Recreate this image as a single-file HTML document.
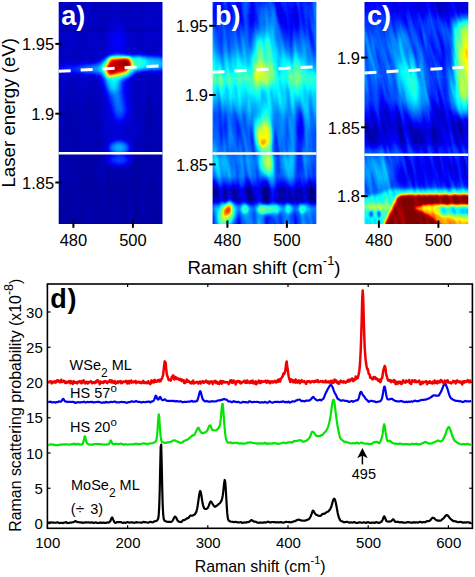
<!DOCTYPE html>
<html><head><meta charset="utf-8"><style>
html,body{margin:0;padding:0;background:#fff;width:475px;height:577px;overflow:hidden}
svg{display:block}
text{font-family:"Liberation Sans",sans-serif}
</style></head><body>
<svg width="475" height="577" viewBox="0 0 475 577">
<defs>
<filter id="jet" x="0" y="0" width="1" height="1" color-interpolation-filters="sRGB">
  <feComponentTransfer>
    <feFuncR type="table" tableValues="0 0 0 0 0.5 1 1 1 0.5"/>
    <feFuncG type="table" tableValues="0 0 0.5 1 1 1 0.5 0 0"/>
    <feFuncB type="table" tableValues="0.5 1 1 1 0.5 0 0 0 0"/>
  </feComponentTransfer>
</filter>
<filter id="b1" x="-50%" y="-50%" width="200%" height="200%"><feGaussianBlur stdDeviation="1.5"/></filter>
<filter id="b2" x="-50%" y="-50%" width="200%" height="200%"><feGaussianBlur stdDeviation="3"/></filter>
<filter id="b3" x="-50%" y="-50%" width="200%" height="200%"><feGaussianBlur stdDeviation="6"/></filter>
<clipPath id="ca"><rect x="58.7" y="2" width="103.8" height="222"/></clipPath>
<clipPath id="cb"><rect x="212.6" y="2" width="103.8" height="222"/></clipPath>
<clipPath id="cc"><rect x="364.5" y="2" width="103.8" height="222"/></clipPath>
<filter id="bl1" x="-80%" y="-80%" width="260%" height="260%"><feGaussianBlur stdDeviation="0.8"/></filter><filter id="bl2" x="-80%" y="-80%" width="260%" height="260%"><feGaussianBlur stdDeviation="1.5"/></filter><filter id="bl3" x="-80%" y="-80%" width="260%" height="260%"><feGaussianBlur stdDeviation="2.5"/></filter><filter id="bl4" x="-80%" y="-80%" width="260%" height="260%"><feGaussianBlur stdDeviation="4"/></filter><filter id="bl5" x="-80%" y="-80%" width="260%" height="260%"><feGaussianBlur stdDeviation="6"/></filter><filter id="jetA" x="0" y="0" width="1" height="1" color-interpolation-filters="sRGB"><feTurbulence type="fractalNoise" baseFrequency="0.15 0.02" numOctaves="2" seed="3" result="n"/><feColorMatrix in="n" type="matrix" values="1 0 0 0 0  1 0 0 0 0  1 0 0 0 0  0 0 0 0 1" result="gn"/><feComposite in="SourceGraphic" in2="gn" operator="arithmetic" k1="0" k2="1" k3="0.035" k4="-0.0175" result="s1"/><feTurbulence type="fractalNoise" baseFrequency="0.8" numOctaves="1" seed="11" result="d"/><feColorMatrix in="d" type="matrix" values="1 0 0 0 0  1 0 0 0 0  1 0 0 0 0  0 0 0 0 1" result="gd"/><feComposite in="s1" in2="gd" operator="arithmetic" k1="0" k2="1" k3="0.016" k4="-0.008"/><feComponentTransfer>
    <feFuncR type="table" tableValues="0 0 0 0 0.5 1 1 1 0.5"/>
    <feFuncG type="table" tableValues="0 0 0.5 1 1 1 0.5 0 0"/>
    <feFuncB type="table" tableValues="0.5 1 1 1 0.5 0 0 0 0"/>
  </feComponentTransfer></filter><filter id="jetB" x="0" y="0" width="1" height="1" color-interpolation-filters="sRGB"><feTurbulence type="fractalNoise" baseFrequency="0.13 0.02" numOctaves="2" seed="5" result="n"/><feColorMatrix in="n" type="matrix" values="1 0 0 0 0  1 0 0 0 0  1 0 0 0 0  0 0 0 0 1" result="gn"/><feComposite in="SourceGraphic" in2="gn" operator="arithmetic" k1="0" k2="1" k3="0.3" k4="-0.15" result="s1"/><feTurbulence type="fractalNoise" baseFrequency="0.8" numOctaves="1" seed="11" result="d"/><feColorMatrix in="d" type="matrix" values="1 0 0 0 0  1 0 0 0 0  1 0 0 0 0  0 0 0 0 1" result="gd"/><feComposite in="s1" in2="gd" operator="arithmetic" k1="0" k2="1" k3="0.016" k4="-0.008"/><feComponentTransfer>
    <feFuncR type="table" tableValues="0 0 0 0 0.5 1 1 1 0.5"/>
    <feFuncG type="table" tableValues="0 0 0.5 1 1 1 0.5 0 0"/>
    <feFuncB type="table" tableValues="0.5 1 1 1 0.5 0 0 0 0"/>
  </feComponentTransfer></filter><filter id="jetC" x="0" y="0" width="1" height="1" color-interpolation-filters="sRGB"><feTurbulence type="fractalNoise" baseFrequency="0.2 0.025" numOctaves="2" seed="9" result="n"/><feColorMatrix in="n" type="matrix" values="1 0 0 0 0  1 0 0 0 0  1 0 0 0 0  0 0 0 0 1" result="gn"/><feComposite in="SourceGraphic" in2="gn" operator="arithmetic" k1="0" k2="1" k3="0.2" k4="-0.1" result="s1"/><feTurbulence type="fractalNoise" baseFrequency="0.8" numOctaves="1" seed="11" result="d"/><feColorMatrix in="d" type="matrix" values="1 0 0 0 0  1 0 0 0 0  1 0 0 0 0  0 0 0 0 1" result="gd"/><feComposite in="s1" in2="gd" operator="arithmetic" k1="0" k2="1" k3="0.016" k4="-0.008"/><feComponentTransfer>
    <feFuncR type="table" tableValues="0 0 0 0 0.5 1 1 1 0.5"/>
    <feFuncG type="table" tableValues="0 0 0.5 1 1 1 0.5 0 0"/>
    <feFuncB type="table" tableValues="0.5 1 1 1 0.5 0 0 0 0"/>
  </feComponentTransfer></filter><linearGradient id="ga" gradientUnits="userSpaceOnUse" x1="0" y1="2" x2="0" y2="224"><stop offset="0.0000" stop-color="rgb(17,17,17)"/><stop offset="0.1194" stop-color="rgb(17,17,17)"/><stop offset="0.1284" stop-color="rgb(11,11,11)"/><stop offset="0.1374" stop-color="rgb(18,18,18)"/><stop offset="0.2613" stop-color="rgb(17,17,17)"/><stop offset="0.4414" stop-color="rgb(15,15,15)"/><stop offset="0.6667" stop-color="rgb(13,13,13)"/><stop offset="0.6937" stop-color="rgb(11,11,11)"/><stop offset="1.0000" stop-color="rgb(10,10,10)"/></linearGradient><linearGradient id="gb" gradientUnits="userSpaceOnUse" x1="0" y1="2" x2="0" y2="224"><stop offset="0.0000" stop-color="rgb(41,41,41)"/><stop offset="0.0811" stop-color="rgb(46,46,46)"/><stop offset="0.1712" stop-color="rgb(56,56,56)"/><stop offset="0.2162" stop-color="rgb(64,64,64)"/><stop offset="0.2523" stop-color="rgb(76,76,76)"/><stop offset="0.2973" stop-color="rgb(94,94,94)"/><stop offset="0.3423" stop-color="rgb(112,112,112)"/><stop offset="0.3874" stop-color="rgb(99,99,99)"/><stop offset="0.4414" stop-color="rgb(82,82,82)"/><stop offset="0.5090" stop-color="rgb(64,64,64)"/><stop offset="0.6667" stop-color="rgb(59,59,59)"/><stop offset="0.7117" stop-color="rgb(66,66,66)"/><stop offset="0.7838" stop-color="rgb(61,61,61)"/><stop offset="0.8198" stop-color="rgb(38,38,38)"/><stop offset="0.8468" stop-color="rgb(15,15,15)"/><stop offset="0.8964" stop-color="rgb(15,15,15)"/><stop offset="0.9189" stop-color="rgb(56,56,56)"/><stop offset="0.9324" stop-color="rgb(66,66,66)"/><stop offset="0.9550" stop-color="rgb(56,56,56)"/><stop offset="0.9820" stop-color="rgb(51,51,51)"/><stop offset="1.0000" stop-color="rgb(51,51,51)"/></linearGradient><linearGradient id="gc" gradientUnits="userSpaceOnUse" x1="0" y1="2" x2="0" y2="224"><stop offset="0.0000" stop-color="rgb(26,26,26)"/><stop offset="0.0811" stop-color="rgb(36,36,36)"/><stop offset="0.1712" stop-color="rgb(46,46,46)"/><stop offset="0.3063" stop-color="rgb(51,51,51)"/><stop offset="0.4414" stop-color="rgb(41,41,41)"/><stop offset="0.4955" stop-color="rgb(26,26,26)"/><stop offset="0.5766" stop-color="rgb(17,17,17)"/><stop offset="0.6351" stop-color="rgb(23,23,23)"/><stop offset="0.6757" stop-color="rgb(43,43,43)"/><stop offset="0.7117" stop-color="rgb(43,43,43)"/><stop offset="0.8018" stop-color="rgb(38,38,38)"/><stop offset="0.8468" stop-color="rgb(51,51,51)"/><stop offset="1.0000" stop-color="rgb(64,64,64)"/></linearGradient><radialGradient id="rg0"><stop offset="0.000" stop-color="rgb(33,33,33)" stop-opacity="0.988"/><stop offset="0.083" stop-color="rgb(33,33,33)" stop-opacity="0.968"/><stop offset="0.167" stop-color="rgb(33,33,33)" stop-opacity="0.928"/><stop offset="0.250" stop-color="rgb(33,33,33)" stop-opacity="0.856"/><stop offset="0.333" stop-color="rgb(33,33,33)" stop-opacity="0.748"/><stop offset="0.417" stop-color="rgb(33,33,33)" stop-opacity="0.607"/><stop offset="0.500" stop-color="rgb(33,33,33)" stop-opacity="0.450"/><stop offset="0.583" stop-color="rgb(33,33,33)" stop-opacity="0.301"/><stop offset="0.667" stop-color="rgb(33,33,33)" stop-opacity="0.180"/><stop offset="0.750" stop-color="rgb(33,33,33)" stop-opacity="0.095"/><stop offset="0.833" stop-color="rgb(33,33,33)" stop-opacity="0.044"/><stop offset="0.917" stop-color="rgb(33,33,33)" stop-opacity="0.018"/><stop offset="1.000" stop-color="rgb(33,33,33)" stop-opacity="0.006"/></radialGradient><radialGradient id="rg1"><stop offset="0.000" stop-color="rgb(23,23,23)" stop-opacity="0.990"/><stop offset="0.083" stop-color="rgb(23,23,23)" stop-opacity="0.973"/><stop offset="0.167" stop-color="rgb(23,23,23)" stop-opacity="0.937"/><stop offset="0.250" stop-color="rgb(23,23,23)" stop-opacity="0.870"/><stop offset="0.333" stop-color="rgb(23,23,23)" stop-opacity="0.765"/><stop offset="0.417" stop-color="rgb(23,23,23)" stop-opacity="0.625"/><stop offset="0.500" stop-color="rgb(23,23,23)" stop-opacity="0.467"/><stop offset="0.583" stop-color="rgb(23,23,23)" stop-opacity="0.313"/><stop offset="0.667" stop-color="rgb(23,23,23)" stop-opacity="0.187"/><stop offset="0.750" stop-color="rgb(23,23,23)" stop-opacity="0.098"/><stop offset="0.833" stop-color="rgb(23,23,23)" stop-opacity="0.045"/><stop offset="0.917" stop-color="rgb(23,23,23)" stop-opacity="0.018"/><stop offset="1.000" stop-color="rgb(23,23,23)" stop-opacity="0.006"/></radialGradient><radialGradient id="rg2"><stop offset="0.000" stop-color="rgb(43,43,43)" stop-opacity="0.945"/><stop offset="0.083" stop-color="rgb(43,43,43)" stop-opacity="0.896"/><stop offset="0.167" stop-color="rgb(43,43,43)" stop-opacity="0.820"/><stop offset="0.250" stop-color="rgb(43,43,43)" stop-opacity="0.717"/><stop offset="0.333" stop-color="rgb(43,43,43)" stop-opacity="0.592"/><stop offset="0.417" stop-color="rgb(43,43,43)" stop-opacity="0.457"/><stop offset="0.500" stop-color="rgb(43,43,43)" stop-opacity="0.326"/><stop offset="0.583" stop-color="rgb(43,43,43)" stop-opacity="0.214"/><stop offset="0.667" stop-color="rgb(43,43,43)" stop-opacity="0.129"/><stop offset="0.750" stop-color="rgb(43,43,43)" stop-opacity="0.070"/><stop offset="0.833" stop-color="rgb(43,43,43)" stop-opacity="0.035"/><stop offset="0.917" stop-color="rgb(43,43,43)" stop-opacity="0.015"/><stop offset="1.000" stop-color="rgb(43,43,43)" stop-opacity="0.006"/></radialGradient><radialGradient id="rg3"><stop offset="0.000" stop-color="rgb(69,69,69)" stop-opacity="0.945"/><stop offset="0.083" stop-color="rgb(69,69,69)" stop-opacity="0.896"/><stop offset="0.167" stop-color="rgb(69,69,69)" stop-opacity="0.820"/><stop offset="0.250" stop-color="rgb(69,69,69)" stop-opacity="0.717"/><stop offset="0.333" stop-color="rgb(69,69,69)" stop-opacity="0.592"/><stop offset="0.417" stop-color="rgb(69,69,69)" stop-opacity="0.457"/><stop offset="0.500" stop-color="rgb(69,69,69)" stop-opacity="0.326"/><stop offset="0.583" stop-color="rgb(69,69,69)" stop-opacity="0.214"/><stop offset="0.667" stop-color="rgb(69,69,69)" stop-opacity="0.129"/><stop offset="0.750" stop-color="rgb(69,69,69)" stop-opacity="0.070"/><stop offset="0.833" stop-color="rgb(69,69,69)" stop-opacity="0.035"/><stop offset="0.917" stop-color="rgb(69,69,69)" stop-opacity="0.015"/><stop offset="1.000" stop-color="rgb(69,69,69)" stop-opacity="0.006"/></radialGradient><radialGradient id="rg4"><stop offset="0.000" stop-color="rgb(84,84,84)" stop-opacity="0.995"/><stop offset="0.083" stop-color="rgb(84,84,84)" stop-opacity="0.985"/><stop offset="0.167" stop-color="rgb(84,84,84)" stop-opacity="0.960"/><stop offset="0.250" stop-color="rgb(84,84,84)" stop-opacity="0.907"/><stop offset="0.333" stop-color="rgb(84,84,84)" stop-opacity="0.816"/><stop offset="0.417" stop-color="rgb(84,84,84)" stop-opacity="0.683"/><stop offset="0.500" stop-color="rgb(84,84,84)" stop-opacity="0.520"/><stop offset="0.583" stop-color="rgb(84,84,84)" stop-opacity="0.354"/><stop offset="0.667" stop-color="rgb(84,84,84)" stop-opacity="0.212"/><stop offset="0.750" stop-color="rgb(84,84,84)" stop-opacity="0.110"/><stop offset="0.833" stop-color="rgb(84,84,84)" stop-opacity="0.049"/><stop offset="0.917" stop-color="rgb(84,84,84)" stop-opacity="0.019"/><stop offset="1.000" stop-color="rgb(84,84,84)" stop-opacity="0.006"/></radialGradient><radialGradient id="rg5"><stop offset="0.000" stop-color="rgb(107,107,107)" stop-opacity="0.992"/><stop offset="0.083" stop-color="rgb(107,107,107)" stop-opacity="0.977"/><stop offset="0.167" stop-color="rgb(107,107,107)" stop-opacity="0.943"/><stop offset="0.250" stop-color="rgb(107,107,107)" stop-opacity="0.880"/><stop offset="0.333" stop-color="rgb(107,107,107)" stop-opacity="0.778"/><stop offset="0.417" stop-color="rgb(107,107,107)" stop-opacity="0.640"/><stop offset="0.500" stop-color="rgb(107,107,107)" stop-opacity="0.480"/><stop offset="0.583" stop-color="rgb(107,107,107)" stop-opacity="0.323"/><stop offset="0.667" stop-color="rgb(107,107,107)" stop-opacity="0.193"/><stop offset="0.750" stop-color="rgb(107,107,107)" stop-opacity="0.101"/><stop offset="0.833" stop-color="rgb(107,107,107)" stop-opacity="0.046"/><stop offset="0.917" stop-color="rgb(107,107,107)" stop-opacity="0.018"/><stop offset="1.000" stop-color="rgb(107,107,107)" stop-opacity="0.006"/></radialGradient><radialGradient id="rg6"><stop offset="0.000" stop-color="rgb(128,128,128)" stop-opacity="1.000"/><stop offset="0.083" stop-color="rgb(128,128,128)" stop-opacity="1.000"/><stop offset="0.167" stop-color="rgb(128,128,128)" stop-opacity="0.999"/><stop offset="0.250" stop-color="rgb(128,128,128)" stop-opacity="0.996"/><stop offset="0.333" stop-color="rgb(128,128,128)" stop-opacity="0.982"/><stop offset="0.417" stop-color="rgb(128,128,128)" stop-opacity="0.936"/><stop offset="0.500" stop-color="rgb(128,128,128)" stop-opacity="0.829"/><stop offset="0.583" stop-color="rgb(128,128,128)" stop-opacity="0.646"/><stop offset="0.667" stop-color="rgb(128,128,128)" stop-opacity="0.421"/><stop offset="0.750" stop-color="rgb(128,128,128)" stop-opacity="0.219"/><stop offset="0.833" stop-color="rgb(128,128,128)" stop-opacity="0.089"/><stop offset="0.917" stop-color="rgb(128,128,128)" stop-opacity="0.027"/><stop offset="1.000" stop-color="rgb(128,128,128)" stop-opacity="0.006"/></radialGradient><radialGradient id="rg7"><stop offset="0.000" stop-color="rgb(247,247,247)" stop-opacity="0.977"/><stop offset="0.083" stop-color="rgb(247,247,247)" stop-opacity="0.948"/><stop offset="0.167" stop-color="rgb(247,247,247)" stop-opacity="0.894"/><stop offset="0.250" stop-color="rgb(247,247,247)" stop-opacity="0.809"/><stop offset="0.333" stop-color="rgb(247,247,247)" stop-opacity="0.691"/><stop offset="0.417" stop-color="rgb(247,247,247)" stop-opacity="0.550"/><stop offset="0.500" stop-color="rgb(247,247,247)" stop-opacity="0.401"/><stop offset="0.583" stop-color="rgb(247,247,247)" stop-opacity="0.266"/><stop offset="0.667" stop-color="rgb(247,247,247)" stop-opacity="0.159"/><stop offset="0.750" stop-color="rgb(247,247,247)" stop-opacity="0.085"/><stop offset="0.833" stop-color="rgb(247,247,247)" stop-opacity="0.040"/><stop offset="0.917" stop-color="rgb(247,247,247)" stop-opacity="0.017"/><stop offset="1.000" stop-color="rgb(247,247,247)" stop-opacity="0.006"/></radialGradient><radialGradient id="rg8"><stop offset="0.000" stop-color="rgb(76,76,76)" stop-opacity="0.995"/><stop offset="0.083" stop-color="rgb(76,76,76)" stop-opacity="0.985"/><stop offset="0.167" stop-color="rgb(76,76,76)" stop-opacity="0.960"/><stop offset="0.250" stop-color="rgb(76,76,76)" stop-opacity="0.907"/><stop offset="0.333" stop-color="rgb(76,76,76)" stop-opacity="0.816"/><stop offset="0.417" stop-color="rgb(76,76,76)" stop-opacity="0.683"/><stop offset="0.500" stop-color="rgb(76,76,76)" stop-opacity="0.520"/><stop offset="0.583" stop-color="rgb(76,76,76)" stop-opacity="0.354"/><stop offset="0.667" stop-color="rgb(76,76,76)" stop-opacity="0.212"/><stop offset="0.750" stop-color="rgb(76,76,76)" stop-opacity="0.110"/><stop offset="0.833" stop-color="rgb(76,76,76)" stop-opacity="0.049"/><stop offset="0.917" stop-color="rgb(76,76,76)" stop-opacity="0.019"/><stop offset="1.000" stop-color="rgb(76,76,76)" stop-opacity="0.006"/></radialGradient><radialGradient id="rg9"><stop offset="0.000" stop-color="rgb(51,51,51)" stop-opacity="0.977"/><stop offset="0.083" stop-color="rgb(51,51,51)" stop-opacity="0.948"/><stop offset="0.167" stop-color="rgb(51,51,51)" stop-opacity="0.894"/><stop offset="0.250" stop-color="rgb(51,51,51)" stop-opacity="0.809"/><stop offset="0.333" stop-color="rgb(51,51,51)" stop-opacity="0.691"/><stop offset="0.417" stop-color="rgb(51,51,51)" stop-opacity="0.550"/><stop offset="0.500" stop-color="rgb(51,51,51)" stop-opacity="0.401"/><stop offset="0.583" stop-color="rgb(51,51,51)" stop-opacity="0.266"/><stop offset="0.667" stop-color="rgb(51,51,51)" stop-opacity="0.159"/><stop offset="0.750" stop-color="rgb(51,51,51)" stop-opacity="0.085"/><stop offset="0.833" stop-color="rgb(51,51,51)" stop-opacity="0.040"/><stop offset="0.917" stop-color="rgb(51,51,51)" stop-opacity="0.017"/><stop offset="1.000" stop-color="rgb(51,51,51)" stop-opacity="0.006"/></radialGradient><radialGradient id="rg10"><stop offset="0.000" stop-color="rgb(43,43,43)" stop-opacity="0.952"/><stop offset="0.083" stop-color="rgb(43,43,43)" stop-opacity="0.906"/><stop offset="0.167" stop-color="rgb(43,43,43)" stop-opacity="0.835"/><stop offset="0.250" stop-color="rgb(43,43,43)" stop-opacity="0.734"/><stop offset="0.333" stop-color="rgb(43,43,43)" stop-opacity="0.609"/><stop offset="0.417" stop-color="rgb(43,43,43)" stop-opacity="0.472"/><stop offset="0.500" stop-color="rgb(43,43,43)" stop-opacity="0.338"/><stop offset="0.583" stop-color="rgb(43,43,43)" stop-opacity="0.222"/><stop offset="0.667" stop-color="rgb(43,43,43)" stop-opacity="0.133"/><stop offset="0.750" stop-color="rgb(43,43,43)" stop-opacity="0.072"/><stop offset="0.833" stop-color="rgb(43,43,43)" stop-opacity="0.035"/><stop offset="0.917" stop-color="rgb(43,43,43)" stop-opacity="0.016"/><stop offset="1.000" stop-color="rgb(43,43,43)" stop-opacity="0.006"/></radialGradient><radialGradient id="rg11"><stop offset="0.000" stop-color="rgb(46,46,46)" stop-opacity="0.952"/><stop offset="0.083" stop-color="rgb(46,46,46)" stop-opacity="0.906"/><stop offset="0.167" stop-color="rgb(46,46,46)" stop-opacity="0.835"/><stop offset="0.250" stop-color="rgb(46,46,46)" stop-opacity="0.734"/><stop offset="0.333" stop-color="rgb(46,46,46)" stop-opacity="0.609"/><stop offset="0.417" stop-color="rgb(46,46,46)" stop-opacity="0.472"/><stop offset="0.500" stop-color="rgb(46,46,46)" stop-opacity="0.338"/><stop offset="0.583" stop-color="rgb(46,46,46)" stop-opacity="0.222"/><stop offset="0.667" stop-color="rgb(46,46,46)" stop-opacity="0.133"/><stop offset="0.750" stop-color="rgb(46,46,46)" stop-opacity="0.072"/><stop offset="0.833" stop-color="rgb(46,46,46)" stop-opacity="0.035"/><stop offset="0.917" stop-color="rgb(46,46,46)" stop-opacity="0.016"/><stop offset="1.000" stop-color="rgb(46,46,46)" stop-opacity="0.006"/></radialGradient><radialGradient id="rg12"><stop offset="0.000" stop-color="rgb(122,122,122)" stop-opacity="0.977"/><stop offset="0.083" stop-color="rgb(122,122,122)" stop-opacity="0.948"/><stop offset="0.167" stop-color="rgb(122,122,122)" stop-opacity="0.894"/><stop offset="0.250" stop-color="rgb(122,122,122)" stop-opacity="0.809"/><stop offset="0.333" stop-color="rgb(122,122,122)" stop-opacity="0.691"/><stop offset="0.417" stop-color="rgb(122,122,122)" stop-opacity="0.550"/><stop offset="0.500" stop-color="rgb(122,122,122)" stop-opacity="0.401"/><stop offset="0.583" stop-color="rgb(122,122,122)" stop-opacity="0.266"/><stop offset="0.667" stop-color="rgb(122,122,122)" stop-opacity="0.159"/><stop offset="0.750" stop-color="rgb(122,122,122)" stop-opacity="0.085"/><stop offset="0.833" stop-color="rgb(122,122,122)" stop-opacity="0.040"/><stop offset="0.917" stop-color="rgb(122,122,122)" stop-opacity="0.017"/><stop offset="1.000" stop-color="rgb(122,122,122)" stop-opacity="0.006"/></radialGradient><radialGradient id="rg13"><stop offset="0.000" stop-color="rgb(112,112,112)" stop-opacity="0.945"/><stop offset="0.083" stop-color="rgb(112,112,112)" stop-opacity="0.896"/><stop offset="0.167" stop-color="rgb(112,112,112)" stop-opacity="0.820"/><stop offset="0.250" stop-color="rgb(112,112,112)" stop-opacity="0.717"/><stop offset="0.333" stop-color="rgb(112,112,112)" stop-opacity="0.592"/><stop offset="0.417" stop-color="rgb(112,112,112)" stop-opacity="0.457"/><stop offset="0.500" stop-color="rgb(112,112,112)" stop-opacity="0.326"/><stop offset="0.583" stop-color="rgb(112,112,112)" stop-opacity="0.214"/><stop offset="0.667" stop-color="rgb(112,112,112)" stop-opacity="0.129"/><stop offset="0.750" stop-color="rgb(112,112,112)" stop-opacity="0.070"/><stop offset="0.833" stop-color="rgb(112,112,112)" stop-opacity="0.035"/><stop offset="0.917" stop-color="rgb(112,112,112)" stop-opacity="0.015"/><stop offset="1.000" stop-color="rgb(112,112,112)" stop-opacity="0.006"/></radialGradient><radialGradient id="rg14"><stop offset="0.000" stop-color="rgb(120,120,120)" stop-opacity="0.994"/><stop offset="0.083" stop-color="rgb(120,120,120)" stop-opacity="0.981"/><stop offset="0.167" stop-color="rgb(120,120,120)" stop-opacity="0.952"/><stop offset="0.250" stop-color="rgb(120,120,120)" stop-opacity="0.894"/><stop offset="0.333" stop-color="rgb(120,120,120)" stop-opacity="0.798"/><stop offset="0.417" stop-color="rgb(120,120,120)" stop-opacity="0.662"/><stop offset="0.500" stop-color="rgb(120,120,120)" stop-opacity="0.500"/><stop offset="0.583" stop-color="rgb(120,120,120)" stop-opacity="0.338"/><stop offset="0.667" stop-color="rgb(120,120,120)" stop-opacity="0.202"/><stop offset="0.750" stop-color="rgb(120,120,120)" stop-opacity="0.106"/><stop offset="0.833" stop-color="rgb(120,120,120)" stop-opacity="0.048"/><stop offset="0.917" stop-color="rgb(120,120,120)" stop-opacity="0.019"/><stop offset="1.000" stop-color="rgb(120,120,120)" stop-opacity="0.006"/></radialGradient><radialGradient id="rg15"><stop offset="0.000" stop-color="rgb(148,148,148)" stop-opacity="1.000"/><stop offset="0.083" stop-color="rgb(148,148,148)" stop-opacity="0.999"/><stop offset="0.167" stop-color="rgb(148,148,148)" stop-opacity="0.995"/><stop offset="0.250" stop-color="rgb(148,148,148)" stop-opacity="0.981"/><stop offset="0.333" stop-color="rgb(148,148,148)" stop-opacity="0.941"/><stop offset="0.417" stop-color="rgb(148,148,148)" stop-opacity="0.855"/><stop offset="0.500" stop-color="rgb(148,148,148)" stop-opacity="0.709"/><stop offset="0.583" stop-color="rgb(148,148,148)" stop-opacity="0.517"/><stop offset="0.667" stop-color="rgb(148,148,148)" stop-opacity="0.320"/><stop offset="0.750" stop-color="rgb(148,148,148)" stop-opacity="0.165"/><stop offset="0.833" stop-color="rgb(148,148,148)" stop-opacity="0.069"/><stop offset="0.917" stop-color="rgb(148,148,148)" stop-opacity="0.023"/><stop offset="1.000" stop-color="rgb(148,148,148)" stop-opacity="0.006"/></radialGradient><radialGradient id="rg16"><stop offset="0.000" stop-color="rgb(97,97,97)" stop-opacity="0.992"/><stop offset="0.083" stop-color="rgb(97,97,97)" stop-opacity="0.977"/><stop offset="0.167" stop-color="rgb(97,97,97)" stop-opacity="0.943"/><stop offset="0.250" stop-color="rgb(97,97,97)" stop-opacity="0.880"/><stop offset="0.333" stop-color="rgb(97,97,97)" stop-opacity="0.778"/><stop offset="0.417" stop-color="rgb(97,97,97)" stop-opacity="0.640"/><stop offset="0.500" stop-color="rgb(97,97,97)" stop-opacity="0.480"/><stop offset="0.583" stop-color="rgb(97,97,97)" stop-opacity="0.323"/><stop offset="0.667" stop-color="rgb(97,97,97)" stop-opacity="0.193"/><stop offset="0.750" stop-color="rgb(97,97,97)" stop-opacity="0.101"/><stop offset="0.833" stop-color="rgb(97,97,97)" stop-opacity="0.046"/><stop offset="0.917" stop-color="rgb(97,97,97)" stop-opacity="0.018"/><stop offset="1.000" stop-color="rgb(97,97,97)" stop-opacity="0.006"/></radialGradient><radialGradient id="rg17"><stop offset="0.000" stop-color="rgb(153,153,153)" stop-opacity="0.997"/><stop offset="0.083" stop-color="rgb(153,153,153)" stop-opacity="0.991"/><stop offset="0.167" stop-color="rgb(153,153,153)" stop-opacity="0.972"/><stop offset="0.250" stop-color="rgb(153,153,153)" stop-opacity="0.930"/><stop offset="0.333" stop-color="rgb(153,153,153)" stop-opacity="0.849"/><stop offset="0.417" stop-color="rgb(153,153,153)" stop-opacity="0.723"/><stop offset="0.500" stop-color="rgb(153,153,153)" stop-opacity="0.560"/><stop offset="0.583" stop-color="rgb(153,153,153)" stop-opacity="0.385"/><stop offset="0.667" stop-color="rgb(153,153,153)" stop-opacity="0.232"/><stop offset="0.750" stop-color="rgb(153,153,153)" stop-opacity="0.120"/><stop offset="0.833" stop-color="rgb(153,153,153)" stop-opacity="0.053"/><stop offset="0.917" stop-color="rgb(153,153,153)" stop-opacity="0.020"/><stop offset="1.000" stop-color="rgb(153,153,153)" stop-opacity="0.006"/></radialGradient><radialGradient id="rg18"><stop offset="0.000" stop-color="rgb(184,184,184)" stop-opacity="0.952"/><stop offset="0.083" stop-color="rgb(184,184,184)" stop-opacity="0.906"/><stop offset="0.167" stop-color="rgb(184,184,184)" stop-opacity="0.835"/><stop offset="0.250" stop-color="rgb(184,184,184)" stop-opacity="0.734"/><stop offset="0.333" stop-color="rgb(184,184,184)" stop-opacity="0.609"/><stop offset="0.417" stop-color="rgb(184,184,184)" stop-opacity="0.472"/><stop offset="0.500" stop-color="rgb(184,184,184)" stop-opacity="0.338"/><stop offset="0.583" stop-color="rgb(184,184,184)" stop-opacity="0.222"/><stop offset="0.667" stop-color="rgb(184,184,184)" stop-opacity="0.133"/><stop offset="0.750" stop-color="rgb(184,184,184)" stop-opacity="0.072"/><stop offset="0.833" stop-color="rgb(184,184,184)" stop-opacity="0.035"/><stop offset="0.917" stop-color="rgb(184,184,184)" stop-opacity="0.016"/><stop offset="1.000" stop-color="rgb(184,184,184)" stop-opacity="0.006"/></radialGradient><radialGradient id="rg19"><stop offset="0.000" stop-color="rgb(145,145,145)" stop-opacity="0.992"/><stop offset="0.083" stop-color="rgb(145,145,145)" stop-opacity="0.977"/><stop offset="0.167" stop-color="rgb(145,145,145)" stop-opacity="0.943"/><stop offset="0.250" stop-color="rgb(145,145,145)" stop-opacity="0.880"/><stop offset="0.333" stop-color="rgb(145,145,145)" stop-opacity="0.778"/><stop offset="0.417" stop-color="rgb(145,145,145)" stop-opacity="0.640"/><stop offset="0.500" stop-color="rgb(145,145,145)" stop-opacity="0.480"/><stop offset="0.583" stop-color="rgb(145,145,145)" stop-opacity="0.323"/><stop offset="0.667" stop-color="rgb(145,145,145)" stop-opacity="0.193"/><stop offset="0.750" stop-color="rgb(145,145,145)" stop-opacity="0.101"/><stop offset="0.833" stop-color="rgb(145,145,145)" stop-opacity="0.046"/><stop offset="0.917" stop-color="rgb(145,145,145)" stop-opacity="0.018"/><stop offset="1.000" stop-color="rgb(145,145,145)" stop-opacity="0.006"/></radialGradient><radialGradient id="rg20"><stop offset="0.000" stop-color="rgb(140,140,140)" stop-opacity="0.997"/><stop offset="0.083" stop-color="rgb(140,140,140)" stop-opacity="0.991"/><stop offset="0.167" stop-color="rgb(140,140,140)" stop-opacity="0.972"/><stop offset="0.250" stop-color="rgb(140,140,140)" stop-opacity="0.930"/><stop offset="0.333" stop-color="rgb(140,140,140)" stop-opacity="0.849"/><stop offset="0.417" stop-color="rgb(140,140,140)" stop-opacity="0.723"/><stop offset="0.500" stop-color="rgb(140,140,140)" stop-opacity="0.560"/><stop offset="0.583" stop-color="rgb(140,140,140)" stop-opacity="0.385"/><stop offset="0.667" stop-color="rgb(140,140,140)" stop-opacity="0.232"/><stop offset="0.750" stop-color="rgb(140,140,140)" stop-opacity="0.120"/><stop offset="0.833" stop-color="rgb(140,140,140)" stop-opacity="0.053"/><stop offset="0.917" stop-color="rgb(140,140,140)" stop-opacity="0.020"/><stop offset="1.000" stop-color="rgb(140,140,140)" stop-opacity="0.006"/></radialGradient><radialGradient id="rg21"><stop offset="0.000" stop-color="rgb(230,230,230)" stop-opacity="0.977"/><stop offset="0.083" stop-color="rgb(230,230,230)" stop-opacity="0.948"/><stop offset="0.167" stop-color="rgb(230,230,230)" stop-opacity="0.894"/><stop offset="0.250" stop-color="rgb(230,230,230)" stop-opacity="0.809"/><stop offset="0.333" stop-color="rgb(230,230,230)" stop-opacity="0.691"/><stop offset="0.417" stop-color="rgb(230,230,230)" stop-opacity="0.550"/><stop offset="0.500" stop-color="rgb(230,230,230)" stop-opacity="0.401"/><stop offset="0.583" stop-color="rgb(230,230,230)" stop-opacity="0.266"/><stop offset="0.667" stop-color="rgb(230,230,230)" stop-opacity="0.159"/><stop offset="0.750" stop-color="rgb(230,230,230)" stop-opacity="0.085"/><stop offset="0.833" stop-color="rgb(230,230,230)" stop-opacity="0.040"/><stop offset="0.917" stop-color="rgb(230,230,230)" stop-opacity="0.017"/><stop offset="1.000" stop-color="rgb(230,230,230)" stop-opacity="0.006"/></radialGradient><radialGradient id="rg22"><stop offset="0.000" stop-color="rgb(128,128,128)" stop-opacity="0.999"/><stop offset="0.083" stop-color="rgb(128,128,128)" stop-opacity="0.994"/><stop offset="0.167" stop-color="rgb(128,128,128)" stop-opacity="0.981"/><stop offset="0.250" stop-color="rgb(128,128,128)" stop-opacity="0.948"/><stop offset="0.333" stop-color="rgb(128,128,128)" stop-opacity="0.878"/><stop offset="0.417" stop-color="rgb(128,128,128)" stop-opacity="0.761"/><stop offset="0.500" stop-color="rgb(128,128,128)" stop-opacity="0.599"/><stop offset="0.583" stop-color="rgb(128,128,128)" stop-opacity="0.417"/><stop offset="0.667" stop-color="rgb(128,128,128)" stop-opacity="0.252"/><stop offset="0.750" stop-color="rgb(128,128,128)" stop-opacity="0.130"/><stop offset="0.833" stop-color="rgb(128,128,128)" stop-opacity="0.057"/><stop offset="0.917" stop-color="rgb(128,128,128)" stop-opacity="0.021"/><stop offset="1.000" stop-color="rgb(128,128,128)" stop-opacity="0.006"/></radialGradient><radialGradient id="rg23"><stop offset="0.000" stop-color="rgb(102,102,102)" stop-opacity="0.990"/><stop offset="0.083" stop-color="rgb(102,102,102)" stop-opacity="0.973"/><stop offset="0.167" stop-color="rgb(102,102,102)" stop-opacity="0.937"/><stop offset="0.250" stop-color="rgb(102,102,102)" stop-opacity="0.870"/><stop offset="0.333" stop-color="rgb(102,102,102)" stop-opacity="0.765"/><stop offset="0.417" stop-color="rgb(102,102,102)" stop-opacity="0.625"/><stop offset="0.500" stop-color="rgb(102,102,102)" stop-opacity="0.467"/><stop offset="0.583" stop-color="rgb(102,102,102)" stop-opacity="0.313"/><stop offset="0.667" stop-color="rgb(102,102,102)" stop-opacity="0.187"/><stop offset="0.750" stop-color="rgb(102,102,102)" stop-opacity="0.098"/><stop offset="0.833" stop-color="rgb(102,102,102)" stop-opacity="0.045"/><stop offset="0.917" stop-color="rgb(102,102,102)" stop-opacity="0.018"/><stop offset="1.000" stop-color="rgb(102,102,102)" stop-opacity="0.006"/></radialGradient><radialGradient id="rg24"><stop offset="0.000" stop-color="rgb(102,102,102)" stop-opacity="0.990"/><stop offset="0.083" stop-color="rgb(102,102,102)" stop-opacity="0.973"/><stop offset="0.167" stop-color="rgb(102,102,102)" stop-opacity="0.937"/><stop offset="0.250" stop-color="rgb(102,102,102)" stop-opacity="0.870"/><stop offset="0.333" stop-color="rgb(102,102,102)" stop-opacity="0.765"/><stop offset="0.417" stop-color="rgb(102,102,102)" stop-opacity="0.625"/><stop offset="0.500" stop-color="rgb(102,102,102)" stop-opacity="0.467"/><stop offset="0.583" stop-color="rgb(102,102,102)" stop-opacity="0.313"/><stop offset="0.667" stop-color="rgb(102,102,102)" stop-opacity="0.187"/><stop offset="0.750" stop-color="rgb(102,102,102)" stop-opacity="0.098"/><stop offset="0.833" stop-color="rgb(102,102,102)" stop-opacity="0.045"/><stop offset="0.917" stop-color="rgb(102,102,102)" stop-opacity="0.018"/><stop offset="1.000" stop-color="rgb(102,102,102)" stop-opacity="0.006"/></radialGradient><radialGradient id="rg25"><stop offset="0.000" stop-color="rgb(102,102,102)" stop-opacity="0.990"/><stop offset="0.083" stop-color="rgb(102,102,102)" stop-opacity="0.973"/><stop offset="0.167" stop-color="rgb(102,102,102)" stop-opacity="0.937"/><stop offset="0.250" stop-color="rgb(102,102,102)" stop-opacity="0.870"/><stop offset="0.333" stop-color="rgb(102,102,102)" stop-opacity="0.765"/><stop offset="0.417" stop-color="rgb(102,102,102)" stop-opacity="0.625"/><stop offset="0.500" stop-color="rgb(102,102,102)" stop-opacity="0.467"/><stop offset="0.583" stop-color="rgb(102,102,102)" stop-opacity="0.313"/><stop offset="0.667" stop-color="rgb(102,102,102)" stop-opacity="0.187"/><stop offset="0.750" stop-color="rgb(102,102,102)" stop-opacity="0.098"/><stop offset="0.833" stop-color="rgb(102,102,102)" stop-opacity="0.045"/><stop offset="0.917" stop-color="rgb(102,102,102)" stop-opacity="0.018"/><stop offset="1.000" stop-color="rgb(102,102,102)" stop-opacity="0.006"/></radialGradient><radialGradient id="rg26"><stop offset="0.000" stop-color="rgb(102,102,102)" stop-opacity="0.990"/><stop offset="0.083" stop-color="rgb(102,102,102)" stop-opacity="0.973"/><stop offset="0.167" stop-color="rgb(102,102,102)" stop-opacity="0.937"/><stop offset="0.250" stop-color="rgb(102,102,102)" stop-opacity="0.870"/><stop offset="0.333" stop-color="rgb(102,102,102)" stop-opacity="0.765"/><stop offset="0.417" stop-color="rgb(102,102,102)" stop-opacity="0.625"/><stop offset="0.500" stop-color="rgb(102,102,102)" stop-opacity="0.467"/><stop offset="0.583" stop-color="rgb(102,102,102)" stop-opacity="0.313"/><stop offset="0.667" stop-color="rgb(102,102,102)" stop-opacity="0.187"/><stop offset="0.750" stop-color="rgb(102,102,102)" stop-opacity="0.098"/><stop offset="0.833" stop-color="rgb(102,102,102)" stop-opacity="0.045"/><stop offset="0.917" stop-color="rgb(102,102,102)" stop-opacity="0.018"/><stop offset="1.000" stop-color="rgb(102,102,102)" stop-opacity="0.006"/></radialGradient><radialGradient id="rg27"><stop offset="0.000" stop-color="rgb(20,20,20)" stop-opacity="0.994"/><stop offset="0.083" stop-color="rgb(20,20,20)" stop-opacity="0.981"/><stop offset="0.167" stop-color="rgb(20,20,20)" stop-opacity="0.952"/><stop offset="0.250" stop-color="rgb(20,20,20)" stop-opacity="0.894"/><stop offset="0.333" stop-color="rgb(20,20,20)" stop-opacity="0.798"/><stop offset="0.417" stop-color="rgb(20,20,20)" stop-opacity="0.662"/><stop offset="0.500" stop-color="rgb(20,20,20)" stop-opacity="0.500"/><stop offset="0.583" stop-color="rgb(20,20,20)" stop-opacity="0.338"/><stop offset="0.667" stop-color="rgb(20,20,20)" stop-opacity="0.202"/><stop offset="0.750" stop-color="rgb(20,20,20)" stop-opacity="0.106"/><stop offset="0.833" stop-color="rgb(20,20,20)" stop-opacity="0.048"/><stop offset="0.917" stop-color="rgb(20,20,20)" stop-opacity="0.019"/><stop offset="1.000" stop-color="rgb(20,20,20)" stop-opacity="0.006"/></radialGradient><radialGradient id="rg28"><stop offset="0.000" stop-color="rgb(61,61,61)" stop-opacity="0.952"/><stop offset="0.083" stop-color="rgb(61,61,61)" stop-opacity="0.906"/><stop offset="0.167" stop-color="rgb(61,61,61)" stop-opacity="0.835"/><stop offset="0.250" stop-color="rgb(61,61,61)" stop-opacity="0.734"/><stop offset="0.333" stop-color="rgb(61,61,61)" stop-opacity="0.609"/><stop offset="0.417" stop-color="rgb(61,61,61)" stop-opacity="0.472"/><stop offset="0.500" stop-color="rgb(61,61,61)" stop-opacity="0.338"/><stop offset="0.583" stop-color="rgb(61,61,61)" stop-opacity="0.222"/><stop offset="0.667" stop-color="rgb(61,61,61)" stop-opacity="0.133"/><stop offset="0.750" stop-color="rgb(61,61,61)" stop-opacity="0.072"/><stop offset="0.833" stop-color="rgb(61,61,61)" stop-opacity="0.035"/><stop offset="0.917" stop-color="rgb(61,61,61)" stop-opacity="0.016"/><stop offset="1.000" stop-color="rgb(61,61,61)" stop-opacity="0.006"/></radialGradient><radialGradient id="rg29"><stop offset="0.000" stop-color="rgb(105,105,105)" stop-opacity="0.967"/><stop offset="0.083" stop-color="rgb(105,105,105)" stop-opacity="0.930"/><stop offset="0.167" stop-color="rgb(105,105,105)" stop-opacity="0.867"/><stop offset="0.250" stop-color="rgb(105,105,105)" stop-opacity="0.773"/><stop offset="0.333" stop-color="rgb(105,105,105)" stop-opacity="0.651"/><stop offset="0.417" stop-color="rgb(105,105,105)" stop-opacity="0.511"/><stop offset="0.500" stop-color="rgb(105,105,105)" stop-opacity="0.369"/><stop offset="0.583" stop-color="rgb(105,105,105)" stop-opacity="0.244"/><stop offset="0.667" stop-color="rgb(105,105,105)" stop-opacity="0.146"/><stop offset="0.750" stop-color="rgb(105,105,105)" stop-opacity="0.078"/><stop offset="0.833" stop-color="rgb(105,105,105)" stop-opacity="0.038"/><stop offset="0.917" stop-color="rgb(105,105,105)" stop-opacity="0.016"/><stop offset="1.000" stop-color="rgb(105,105,105)" stop-opacity="0.006"/></radialGradient><radialGradient id="rg30"><stop offset="0.000" stop-color="rgb(71,71,71)" stop-opacity="0.952"/><stop offset="0.083" stop-color="rgb(71,71,71)" stop-opacity="0.906"/><stop offset="0.167" stop-color="rgb(71,71,71)" stop-opacity="0.835"/><stop offset="0.250" stop-color="rgb(71,71,71)" stop-opacity="0.734"/><stop offset="0.333" stop-color="rgb(71,71,71)" stop-opacity="0.609"/><stop offset="0.417" stop-color="rgb(71,71,71)" stop-opacity="0.472"/><stop offset="0.500" stop-color="rgb(71,71,71)" stop-opacity="0.338"/><stop offset="0.583" stop-color="rgb(71,71,71)" stop-opacity="0.222"/><stop offset="0.667" stop-color="rgb(71,71,71)" stop-opacity="0.133"/><stop offset="0.750" stop-color="rgb(71,71,71)" stop-opacity="0.072"/><stop offset="0.833" stop-color="rgb(71,71,71)" stop-opacity="0.035"/><stop offset="0.917" stop-color="rgb(71,71,71)" stop-opacity="0.016"/><stop offset="1.000" stop-color="rgb(71,71,71)" stop-opacity="0.006"/></radialGradient><radialGradient id="rg31"><stop offset="0.000" stop-color="rgb(43,43,43)" stop-opacity="0.990"/><stop offset="0.083" stop-color="rgb(43,43,43)" stop-opacity="0.973"/><stop offset="0.167" stop-color="rgb(43,43,43)" stop-opacity="0.937"/><stop offset="0.250" stop-color="rgb(43,43,43)" stop-opacity="0.870"/><stop offset="0.333" stop-color="rgb(43,43,43)" stop-opacity="0.765"/><stop offset="0.417" stop-color="rgb(43,43,43)" stop-opacity="0.625"/><stop offset="0.500" stop-color="rgb(43,43,43)" stop-opacity="0.467"/><stop offset="0.583" stop-color="rgb(43,43,43)" stop-opacity="0.313"/><stop offset="0.667" stop-color="rgb(43,43,43)" stop-opacity="0.187"/><stop offset="0.750" stop-color="rgb(43,43,43)" stop-opacity="0.098"/><stop offset="0.833" stop-color="rgb(43,43,43)" stop-opacity="0.045"/><stop offset="0.917" stop-color="rgb(43,43,43)" stop-opacity="0.018"/><stop offset="1.000" stop-color="rgb(43,43,43)" stop-opacity="0.006"/></radialGradient><radialGradient id="rg32"><stop offset="0.000" stop-color="rgb(173,173,173)" stop-opacity="0.885"/><stop offset="0.083" stop-color="rgb(173,173,173)" stop-opacity="0.814"/><stop offset="0.167" stop-color="rgb(173,173,173)" stop-opacity="0.720"/><stop offset="0.250" stop-color="rgb(173,173,173)" stop-opacity="0.608"/><stop offset="0.333" stop-color="rgb(173,173,173)" stop-opacity="0.487"/><stop offset="0.417" stop-color="rgb(173,173,173)" stop-opacity="0.366"/><stop offset="0.500" stop-color="rgb(173,173,173)" stop-opacity="0.258"/><stop offset="0.583" stop-color="rgb(173,173,173)" stop-opacity="0.169"/><stop offset="0.667" stop-color="rgb(173,173,173)" stop-opacity="0.103"/><stop offset="0.750" stop-color="rgb(173,173,173)" stop-opacity="0.058"/><stop offset="0.833" stop-color="rgb(173,173,173)" stop-opacity="0.030"/><stop offset="0.917" stop-color="rgb(173,173,173)" stop-opacity="0.014"/><stop offset="1.000" stop-color="rgb(173,173,173)" stop-opacity="0.006"/></radialGradient><radialGradient id="rg33"><stop offset="0.000" stop-color="rgb(26,26,26)" stop-opacity="0.990"/><stop offset="0.083" stop-color="rgb(26,26,26)" stop-opacity="0.973"/><stop offset="0.167" stop-color="rgb(26,26,26)" stop-opacity="0.937"/><stop offset="0.250" stop-color="rgb(26,26,26)" stop-opacity="0.870"/><stop offset="0.333" stop-color="rgb(26,26,26)" stop-opacity="0.765"/><stop offset="0.417" stop-color="rgb(26,26,26)" stop-opacity="0.625"/><stop offset="0.500" stop-color="rgb(26,26,26)" stop-opacity="0.467"/><stop offset="0.583" stop-color="rgb(26,26,26)" stop-opacity="0.313"/><stop offset="0.667" stop-color="rgb(26,26,26)" stop-opacity="0.187"/><stop offset="0.750" stop-color="rgb(26,26,26)" stop-opacity="0.098"/><stop offset="0.833" stop-color="rgb(26,26,26)" stop-opacity="0.045"/><stop offset="0.917" stop-color="rgb(26,26,26)" stop-opacity="0.018"/><stop offset="1.000" stop-color="rgb(26,26,26)" stop-opacity="0.006"/></radialGradient><radialGradient id="rg34"><stop offset="0.000" stop-color="rgb(71,71,71)" stop-opacity="0.996"/><stop offset="0.083" stop-color="rgb(71,71,71)" stop-opacity="0.987"/><stop offset="0.167" stop-color="rgb(71,71,71)" stop-opacity="0.965"/><stop offset="0.250" stop-color="rgb(71,71,71)" stop-opacity="0.915"/><stop offset="0.333" stop-color="rgb(71,71,71)" stop-opacity="0.828"/><stop offset="0.417" stop-color="rgb(71,71,71)" stop-opacity="0.696"/><stop offset="0.500" stop-color="rgb(71,71,71)" stop-opacity="0.533"/><stop offset="0.583" stop-color="rgb(71,71,71)" stop-opacity="0.364"/><stop offset="0.667" stop-color="rgb(71,71,71)" stop-opacity="0.218"/><stop offset="0.750" stop-color="rgb(71,71,71)" stop-opacity="0.113"/><stop offset="0.833" stop-color="rgb(71,71,71)" stop-opacity="0.051"/><stop offset="0.917" stop-color="rgb(71,71,71)" stop-opacity="0.019"/><stop offset="1.000" stop-color="rgb(71,71,71)" stop-opacity="0.006"/></radialGradient><radialGradient id="rg35"><stop offset="0.000" stop-color="rgb(143,143,143)" stop-opacity="0.977"/><stop offset="0.083" stop-color="rgb(143,143,143)" stop-opacity="0.948"/><stop offset="0.167" stop-color="rgb(143,143,143)" stop-opacity="0.894"/><stop offset="0.250" stop-color="rgb(143,143,143)" stop-opacity="0.809"/><stop offset="0.333" stop-color="rgb(143,143,143)" stop-opacity="0.691"/><stop offset="0.417" stop-color="rgb(143,143,143)" stop-opacity="0.550"/><stop offset="0.500" stop-color="rgb(143,143,143)" stop-opacity="0.401"/><stop offset="0.583" stop-color="rgb(143,143,143)" stop-opacity="0.266"/><stop offset="0.667" stop-color="rgb(143,143,143)" stop-opacity="0.159"/><stop offset="0.750" stop-color="rgb(143,143,143)" stop-opacity="0.085"/><stop offset="0.833" stop-color="rgb(143,143,143)" stop-opacity="0.040"/><stop offset="0.917" stop-color="rgb(143,143,143)" stop-opacity="0.017"/><stop offset="1.000" stop-color="rgb(143,143,143)" stop-opacity="0.006"/></radialGradient><radialGradient id="rg36"><stop offset="0.000" stop-color="rgb(56,56,56)" stop-opacity="0.994"/><stop offset="0.083" stop-color="rgb(56,56,56)" stop-opacity="0.981"/><stop offset="0.167" stop-color="rgb(56,56,56)" stop-opacity="0.952"/><stop offset="0.250" stop-color="rgb(56,56,56)" stop-opacity="0.894"/><stop offset="0.333" stop-color="rgb(56,56,56)" stop-opacity="0.798"/><stop offset="0.417" stop-color="rgb(56,56,56)" stop-opacity="0.662"/><stop offset="0.500" stop-color="rgb(56,56,56)" stop-opacity="0.500"/><stop offset="0.583" stop-color="rgb(56,56,56)" stop-opacity="0.338"/><stop offset="0.667" stop-color="rgb(56,56,56)" stop-opacity="0.202"/><stop offset="0.750" stop-color="rgb(56,56,56)" stop-opacity="0.106"/><stop offset="0.833" stop-color="rgb(56,56,56)" stop-opacity="0.048"/><stop offset="0.917" stop-color="rgb(56,56,56)" stop-opacity="0.019"/><stop offset="1.000" stop-color="rgb(56,56,56)" stop-opacity="0.006"/></radialGradient><radialGradient id="rg37"><stop offset="0.000" stop-color="rgb(56,56,56)" stop-opacity="0.994"/><stop offset="0.083" stop-color="rgb(56,56,56)" stop-opacity="0.981"/><stop offset="0.167" stop-color="rgb(56,56,56)" stop-opacity="0.952"/><stop offset="0.250" stop-color="rgb(56,56,56)" stop-opacity="0.894"/><stop offset="0.333" stop-color="rgb(56,56,56)" stop-opacity="0.798"/><stop offset="0.417" stop-color="rgb(56,56,56)" stop-opacity="0.662"/><stop offset="0.500" stop-color="rgb(56,56,56)" stop-opacity="0.500"/><stop offset="0.583" stop-color="rgb(56,56,56)" stop-opacity="0.338"/><stop offset="0.667" stop-color="rgb(56,56,56)" stop-opacity="0.202"/><stop offset="0.750" stop-color="rgb(56,56,56)" stop-opacity="0.106"/><stop offset="0.833" stop-color="rgb(56,56,56)" stop-opacity="0.048"/><stop offset="0.917" stop-color="rgb(56,56,56)" stop-opacity="0.019"/><stop offset="1.000" stop-color="rgb(56,56,56)" stop-opacity="0.006"/></radialGradient></defs>

<g clip-path="url(#ca)"><g filter="url(#jetA)"><rect x="50" y="0" width="120" height="230" fill="url(#ga)"/><ellipse cx="118" cy="42" rx="19.0" ry="29.555555555555557" fill="url(#rg0)"/><ellipse cx="119" cy="105" rx="29.000000000000004" ry="93.21428571428572" fill="url(#rg1)"/><ellipse cx="80" cy="69" rx="71.75" ry="10.25" fill="url(#rg2)"/><ellipse cx="97" cy="69" rx="30.75" ry="10.25" fill="url(#rg3)"/><ellipse cx="150" cy="63.5" rx="47.07692307692307" ry="12.75" fill="url(#rg4)"/><ellipse cx="137" cy="63" rx="18.375" ry="12.25" fill="url(#rg5)"/><path d="M102,72 L122,72 L121,92 L125,114 L119,121 L112,100 Z" fill="rgb(74,74,74)" filter="url(#bl4)"/><path d="M104,72 L120,72 L117,90 L111,92 Z" fill="rgb(92,92,92)" filter="url(#bl3)"/><ellipse cx="118" cy="67" rx="25.09090909090909" ry="17.25" fill="url(#rg6)"/><path d="M110,57.5 L130,57 L133,66 L126,73.5 L108,77.5 L104,69 Z" fill="rgb(153,153,153)" filter="url(#bl2)"/><path d="M111,59.5 L129,59 L131.5,66 L125,71.5 L109,75.5 L106,68.5 Z" fill="rgb(237,237,237)" filter="url(#bl2)"/><ellipse cx="123" cy="63" rx="11.25" ry="6.75" fill="url(#rg7)"/><ellipse cx="119" cy="148" rx="17.653846153846153" ry="12.75" fill="url(#rg8)"/><ellipse cx="119" cy="160" rx="20.25" ry="11.25" fill="url(#rg9)"/></g></g>
<g clip-path="url(#cb)"><g transform="matrix(1,0,0.1,1,-11.3,0)" filter="url(#jetB)"><g transform="matrix(1,0,-0.1,1,11.3,0)"><rect x="150" y="0" width="230" height="230" fill="url(#gb)"/><ellipse cx="300" cy="130" rx="25.0" ry="35.0" fill="url(#rg10)"/><ellipse cx="238" cy="128" rx="25.0" ry="30.0" fill="url(#rg11)"/><ellipse cx="224" cy="80" rx="27.0" ry="11.25" fill="url(#rg12)"/><ellipse cx="300" cy="80" rx="35.875" ry="10.25" fill="url(#rg13)"/><ellipse cx="265" cy="58" rx="20.0" ry="44.0" fill="url(#rg14)"/><ellipse cx="265" cy="74" rx="15.25" ry="20.333333333333332" fill="url(#rg15)"/><ellipse cx="263" cy="122" rx="12.25" ry="53.08333333333333" fill="url(#rg16)"/><ellipse cx="264" cy="136" rx="13.25" ry="26.5" fill="url(#rg17)"/><ellipse cx="263.5" cy="142.5" rx="6.25" ry="7.5" fill="url(#rg18)"/><ellipse cx="266" cy="163" rx="12.25" ry="22.458333333333332" fill="url(#rg19)"/><ellipse cx="227" cy="214" rx="13.25" ry="20.82142857142857" fill="url(#rg20)" transform="rotate(15 227 214)"/><ellipse cx="227.5" cy="210.5" rx="6.75" ry="11.25" fill="url(#rg21)" transform="rotate(15 227.5 210.5)"/><ellipse cx="266" cy="209.5" rx="12.833333333333332" ry="8.25" fill="url(#rg22)"/><ellipse cx="245" cy="209" rx="7.250000000000001" ry="8.285714285714286" fill="url(#rg23)"/><ellipse cx="277" cy="209" rx="7.250000000000001" ry="8.285714285714286" fill="url(#rg24)"/><ellipse cx="289" cy="209" rx="7.250000000000001" ry="8.285714285714286" fill="url(#rg25)"/><ellipse cx="302.6" cy="209" rx="7.250000000000001" ry="8.285714285714286" fill="url(#rg26)"/></g></g></g>
<g clip-path="url(#cc)"><g transform="matrix(1,0,0.22,1,-24.86,0)" filter="url(#jetC)"><g transform="matrix(1,0,-0.22,1,24.86,0)"><rect x="300" y="0" width="230" height="230" fill="url(#gc)"/><ellipse cx="437" cy="6" rx="44.0" ry="20.0" fill="url(#rg27)"/><ellipse cx="370" cy="60" rx="25.0" ry="87.5" fill="url(#rg28)"/><ellipse cx="410" cy="80" rx="26.0" ry="70.9090909090909" fill="url(#rg29)" transform="rotate(-15 410 80)"/><ellipse cx="400" cy="50" rx="25.0" ry="37.5" fill="url(#rg30)"/><ellipse cx="438" cy="50" rx="29.000000000000004" ry="51.78571428571429" fill="url(#rg31)"/><path d="M453,24 Q462,12 472,20 L472,112 Q462,122 453,108 Z" fill="rgb(94,94,94)" filter="url(#bl4)"/><path d="M459,28 Q466,20 473,26 L473,98 Q466,106 459,96 Z" fill="rgb(153,153,153)" filter="url(#bl4)"/><ellipse cx="466" cy="53" rx="9.25" ry="18.5" fill="url(#rg32)"/><ellipse cx="440" cy="170" rx="70.42857142857143" ry="29.000000000000004" fill="url(#rg33)"/><ellipse cx="376" cy="172" rx="31.0" ry="38.75" fill="url(#rg34)"/><path d="M360,200 L392,189 L470,189 L470,230 L360,230 Z" fill="rgb(92,92,92)" filter="url(#bl2)"/><rect x="364" y="197" width="30" height="20" fill="rgb(107,107,107)" filter="url(#bl3)"/><ellipse cx="377" cy="207" rx="27.0" ry="6.75" fill="url(#rg35)"/><ellipse cx="371" cy="214" rx="4.0" ry="6.0" fill="url(#rg36)"/><ellipse cx="379" cy="214" rx="4.0" ry="6.0" fill="url(#rg37)"/><path d="M396.5,198 Q398,194.2 406,194.2 L480,194.2 L480,235 L381,235 L385,223 Q390,212 394,204 Q395.5,200 396.5,198 Z" fill="rgb(255,255,255)" filter="url(#bl2)"/><path d="M414,208 L428,204.5 L475,204.5 L475,226 L455,226 L441,225 L429,215 Z" fill="rgb(184,184,184)" filter="url(#bl1)"/><path d="M420,207 L432,205.5 L475,205.5 L475,221 L452,219.5 L439,215 Z" fill="rgb(153,153,153)" filter="url(#bl2)"/><path d="M440,207 L475,207 L475,215 L442,214.5 Z" fill="rgb(92,92,92)" filter="url(#bl2)"/></g></g></g>
<line x1="58.7" y1="153.3" x2="162.5" y2="153.3" stroke="#fff" stroke-width="2.5"/>
<line x1="58.7" y1="71.3" x2="162.5" y2="65.7" stroke="#fff" stroke-width="3" stroke-dasharray="12 10"/>
<line x1="212.6" y1="153.4" x2="316.4" y2="153.4" stroke="#fff" stroke-width="2.5"/>
<line x1="212.6" y1="72.3" x2="316.4" y2="66.7" stroke="#fff" stroke-width="3" stroke-dasharray="12 10"/>
<line x1="364.5" y1="154.7" x2="468.3" y2="154.7" stroke="#fff" stroke-width="2.5"/>
<line x1="364.5" y1="73" x2="468.3" y2="67" stroke="#fff" stroke-width="3" stroke-dasharray="12 10"/>
<line x1="55.300000000000004" y1="43.9" x2="61.900000000000006" y2="43.9" stroke="#000" stroke-width="2"/>
<text x="54.1" y="50.1" font-size="16.5" text-anchor="end" font-weight="normal" fill="#000" >1.95</text>
<line x1="55.300000000000004" y1="113.7" x2="61.900000000000006" y2="113.7" stroke="#000" stroke-width="2"/>
<text x="54.1" y="119.9" font-size="16.5" text-anchor="end" font-weight="normal" fill="#000" >1.9</text>
<line x1="55.300000000000004" y1="182.5" x2="61.900000000000006" y2="182.5" stroke="#000" stroke-width="2"/>
<text x="54.1" y="188.7" font-size="16.5" text-anchor="end" font-weight="normal" fill="#000" >1.85</text>
<line x1="73.4" y1="220.5" x2="73.4" y2="227.8" stroke="#000" stroke-width="2"/>
<text x="73.4" y="245.6" font-size="16.5" text-anchor="middle" font-weight="normal" fill="#000" >480</text>
<line x1="132.9" y1="220.5" x2="132.9" y2="227.8" stroke="#000" stroke-width="2"/>
<text x="132.9" y="245.6" font-size="16.5" text-anchor="middle" font-weight="normal" fill="#000" >500</text>
<line x1="209.2" y1="25.8" x2="215.79999999999998" y2="25.8" stroke="#000" stroke-width="2"/>
<text x="208.0" y="32.0" font-size="16.5" text-anchor="end" font-weight="normal" fill="#000" >1.95</text>
<line x1="209.2" y1="95" x2="215.79999999999998" y2="95" stroke="#000" stroke-width="2"/>
<text x="208.0" y="101.2" font-size="16.5" text-anchor="end" font-weight="normal" fill="#000" >1.9</text>
<line x1="209.2" y1="164.4" x2="215.79999999999998" y2="164.4" stroke="#000" stroke-width="2"/>
<text x="208.0" y="170.6" font-size="16.5" text-anchor="end" font-weight="normal" fill="#000" >1.85</text>
<line x1="227.4" y1="220.5" x2="227.4" y2="227.8" stroke="#000" stroke-width="2"/>
<text x="227.4" y="245.6" font-size="16.5" text-anchor="middle" font-weight="normal" fill="#000" >480</text>
<line x1="286.9" y1="220.5" x2="286.9" y2="227.8" stroke="#000" stroke-width="2"/>
<text x="286.9" y="245.6" font-size="16.5" text-anchor="middle" font-weight="normal" fill="#000" >500</text>
<line x1="361.1" y1="57.6" x2="367.7" y2="57.6" stroke="#000" stroke-width="2"/>
<text x="359.9" y="63.800000000000004" font-size="16.5" text-anchor="end" font-weight="normal" fill="#000" >1.9</text>
<line x1="361.1" y1="127.3" x2="367.7" y2="127.3" stroke="#000" stroke-width="2"/>
<text x="359.9" y="133.5" font-size="16.5" text-anchor="end" font-weight="normal" fill="#000" >1.85</text>
<line x1="361.1" y1="196.1" x2="367.7" y2="196.1" stroke="#000" stroke-width="2"/>
<text x="359.9" y="202.29999999999998" font-size="16.5" text-anchor="end" font-weight="normal" fill="#000" >1.8</text>
<line x1="378.9" y1="220.5" x2="378.9" y2="227.8" stroke="#000" stroke-width="2"/>
<text x="378.9" y="245.6" font-size="16.5" text-anchor="middle" font-weight="normal" fill="#000" >480</text>
<line x1="438.4" y1="220.5" x2="438.4" y2="227.8" stroke="#000" stroke-width="2"/>
<text x="438.4" y="245.6" font-size="16.5" text-anchor="middle" font-weight="normal" fill="#000" >500</text>
<text x="61.2" y="24.6" font-size="27" text-anchor="start" font-weight="bold" fill="#fff" >a)</text>
<text x="215.1" y="24.6" font-size="27" text-anchor="start" font-weight="bold" fill="#fff" >b)</text>
<text x="367.0" y="24.6" font-size="27" text-anchor="start" font-weight="bold" fill="#fff" >c)</text>
<text x="264" y="274" font-size="18.6" text-anchor="middle" font-weight="normal" fill="#000" >Raman shift (cm<tspan dy="-9" font-size="13">-1</tspan><tspan dy="9">)</tspan></text>
<text transform="translate(15.2,112.75) rotate(-90)" font-size="18.7" text-anchor="middle">Laser energy (eV)</text>
<rect x="47.4" y="284" width="425" height="244.3" fill="none" stroke="#000" stroke-width="1.6"/>
<line x1="47.4" y1="528.3" x2="47.4" y2="525.3" stroke="#000" stroke-width="1.2"/>
<line x1="47.4" y1="284" x2="47.4" y2="287" stroke="#000" stroke-width="1.2"/>
<text x="47.8" y="547.6" font-size="15" text-anchor="middle" font-weight="normal" fill="#000" >100</text>
<line x1="127.6" y1="528.3" x2="127.6" y2="525.3" stroke="#000" stroke-width="1.2"/>
<line x1="127.6" y1="284" x2="127.6" y2="287" stroke="#000" stroke-width="1.2"/>
<text x="128.0" y="547.6" font-size="15" text-anchor="middle" font-weight="normal" fill="#000" >200</text>
<line x1="207.8" y1="528.3" x2="207.8" y2="525.3" stroke="#000" stroke-width="1.2"/>
<line x1="207.8" y1="284" x2="207.8" y2="287" stroke="#000" stroke-width="1.2"/>
<text x="208.20000000000002" y="547.6" font-size="15" text-anchor="middle" font-weight="normal" fill="#000" >300</text>
<line x1="288.0" y1="528.3" x2="288.0" y2="525.3" stroke="#000" stroke-width="1.2"/>
<line x1="288.0" y1="284" x2="288.0" y2="287" stroke="#000" stroke-width="1.2"/>
<text x="288.4" y="547.6" font-size="15" text-anchor="middle" font-weight="normal" fill="#000" >400</text>
<line x1="368.2" y1="528.3" x2="368.2" y2="525.3" stroke="#000" stroke-width="1.2"/>
<line x1="368.2" y1="284" x2="368.2" y2="287" stroke="#000" stroke-width="1.2"/>
<text x="368.59999999999997" y="547.6" font-size="15" text-anchor="middle" font-weight="normal" fill="#000" >500</text>
<line x1="448.4" y1="528.3" x2="448.4" y2="525.3" stroke="#000" stroke-width="1.2"/>
<line x1="448.4" y1="284" x2="448.4" y2="287" stroke="#000" stroke-width="1.2"/>
<text x="448.79999999999995" y="547.6" font-size="15" text-anchor="middle" font-weight="normal" fill="#000" >600</text>
<line x1="47.4" y1="523.5" x2="50.6" y2="523.5" stroke="#000" stroke-width="1.2"/>
<line x1="472.4" y1="523.5" x2="469.2" y2="523.5" stroke="#000" stroke-width="1.2"/>
<text x="42.8" y="529.1" font-size="15" text-anchor="end" font-weight="normal" fill="#000" >0</text>
<line x1="47.4" y1="488.25" x2="50.6" y2="488.25" stroke="#000" stroke-width="1.2"/>
<line x1="472.4" y1="488.25" x2="469.2" y2="488.25" stroke="#000" stroke-width="1.2"/>
<text x="42.8" y="493.85" font-size="15" text-anchor="end" font-weight="normal" fill="#000" >5</text>
<line x1="47.4" y1="453.0" x2="50.6" y2="453.0" stroke="#000" stroke-width="1.2"/>
<line x1="472.4" y1="453.0" x2="469.2" y2="453.0" stroke="#000" stroke-width="1.2"/>
<text x="42.8" y="458.6" font-size="15" text-anchor="end" font-weight="normal" fill="#000" >10</text>
<line x1="47.4" y1="417.75" x2="50.6" y2="417.75" stroke="#000" stroke-width="1.2"/>
<line x1="472.4" y1="417.75" x2="469.2" y2="417.75" stroke="#000" stroke-width="1.2"/>
<text x="42.8" y="423.35" font-size="15" text-anchor="end" font-weight="normal" fill="#000" >15</text>
<line x1="47.4" y1="382.5" x2="50.6" y2="382.5" stroke="#000" stroke-width="1.2"/>
<line x1="472.4" y1="382.5" x2="469.2" y2="382.5" stroke="#000" stroke-width="1.2"/>
<text x="42.8" y="388.1" font-size="15" text-anchor="end" font-weight="normal" fill="#000" >20</text>
<line x1="47.4" y1="347.25" x2="50.6" y2="347.25" stroke="#000" stroke-width="1.2"/>
<line x1="472.4" y1="347.25" x2="469.2" y2="347.25" stroke="#000" stroke-width="1.2"/>
<text x="42.8" y="352.85" font-size="15" text-anchor="end" font-weight="normal" fill="#000" >25</text>
<line x1="47.4" y1="312.0" x2="50.6" y2="312.0" stroke="#000" stroke-width="1.2"/>
<line x1="472.4" y1="312.0" x2="469.2" y2="312.0" stroke="#000" stroke-width="1.2"/>
<text x="42.8" y="317.6" font-size="15" text-anchor="end" font-weight="normal" fill="#000" >30</text>
<text x="260.2" y="572.2" font-size="15.9" text-anchor="middle" font-weight="normal" fill="#000" >Raman shift (cm<tspan dy="-7.8" font-size="11.2">-1</tspan><tspan dy="7.8">)</tspan></text>
<text transform="translate(20.6,405.2) rotate(-90)" font-size="15.9" text-anchor="middle">Raman scattering probability (x10<tspan dy="-7.6" font-size="12.5">-8</tspan><tspan dy="7.6">)</tspan></text>
<text x="50.2" y="307.8" font-size="27" text-anchor="start" font-weight="bold" fill="#000" letter-spacing="0.8">d)</text>
<path d="M48.2,522.21 L48.7,522.37 L49.2,522.54 L49.7,522.70 L50.2,522.70 L50.7,522.52 L51.2,522.37 L51.7,522.38 L52.2,522.48 L52.7,522.57 L53.2,522.56 L53.7,522.59 L54.2,522.71 L54.7,522.76 L55.2,522.73 L55.7,522.70 L56.2,522.61 L56.7,522.52 L57.2,522.45 L57.7,522.40 L58.2,522.47 L58.7,522.72 L59.2,522.98 L59.7,523.05 L60.2,522.98 L60.7,522.91 L61.2,522.85 L61.7,522.84 L62.2,522.92 L62.7,523.04 L63.2,523.05 L63.7,522.83 L64.2,522.63 L64.7,522.59 L65.2,522.45 L65.7,522.19 L66.2,522.16 L66.7,522.49 L67.2,522.83 L67.7,522.99 L68.2,523.06 L68.7,523.01 L69.2,522.85 L69.7,522.66 L70.2,522.51 L70.7,522.51 L71.2,522.58 L71.7,522.47 L72.2,522.30 L72.7,522.23 L73.2,522.16 L73.7,522.04 L74.2,521.87 L74.7,521.52 L75.2,521.17 L75.7,521.14 L76.2,521.39 L76.7,521.65 L77.2,521.95 L77.7,522.22 L78.2,522.27 L78.7,522.20 L79.2,522.26 L79.7,522.43 L80.2,522.47 L80.7,522.38 L81.2,522.42 L81.7,522.66 L82.2,522.80 L82.7,522.70 L83.2,522.59 L83.7,522.60 L84.2,522.64 L84.7,522.57 L85.2,522.44 L85.7,522.39 L86.2,522.37 L86.7,522.37 L87.2,522.44 L87.7,522.50 L88.2,522.48 L88.7,522.41 L89.2,522.36 L89.7,522.46 L90.2,522.64 L90.7,522.72 L91.2,522.59 L91.7,522.33 L92.2,522.27 L92.7,522.53 L93.2,522.87 L93.7,523.02 L94.2,522.86 L94.7,522.63 L95.2,522.49 L95.7,522.41 L96.2,522.56 L96.7,522.87 L97.2,522.98 L97.7,522.97 L98.2,523.01 L98.7,523.04 L99.2,522.94 L99.7,522.70 L100.2,522.45 L100.7,522.47 L101.2,522.78 L101.7,522.97 L102.2,522.88 L102.7,522.70 L103.2,522.60 L103.7,522.65 L104.2,522.80 L104.7,522.85 L105.2,522.81 L105.7,522.79 L106.2,522.79 L106.7,522.71 L107.2,522.53 L107.7,522.43 L108.2,522.53 L108.7,522.54 L109.2,522.25 L109.7,521.84 L110.2,521.31 L110.7,520.34 L111.2,518.91 L111.7,517.64 L112.2,517.42 L112.7,518.30 L113.2,519.62 L113.7,520.85 L114.2,521.79 L114.7,522.51 L115.2,522.92 L115.7,522.87 L116.2,522.56 L116.7,522.25 L117.2,522.08 L117.7,522.03 L118.2,522.04 L118.7,522.07 L119.2,522.13 L119.7,522.13 L120.2,522.04 L120.7,521.98 L121.2,522.13 L121.7,522.42 L122.2,522.68 L122.7,522.83 L123.2,522.81 L123.7,522.68 L124.2,522.59 L124.7,522.68 L125.2,522.90 L125.7,522.88 L126.2,522.59 L126.7,522.33 L127.2,522.20 L127.7,522.14 L128.2,522.27 L128.7,522.48 L129.2,522.56 L129.7,522.55 L130.2,522.52 L130.7,522.45 L131.2,522.40 L131.7,522.35 L132.2,522.35 L132.7,522.44 L133.2,522.59 L133.7,522.75 L134.2,522.81 L134.7,522.75 L135.2,522.57 L135.7,522.37 L136.2,522.20 L136.7,522.20 L137.2,522.36 L137.7,522.47 L138.2,522.48 L138.7,522.49 L139.2,522.49 L139.7,522.52 L140.2,522.56 L140.7,522.49 L141.2,522.48 L141.7,522.61 L142.2,522.59 L142.7,522.32 L143.2,522.01 L143.7,521.89 L144.2,522.01 L144.7,522.20 L145.2,522.23 L145.7,522.21 L146.2,522.35 L146.7,522.51 L147.2,522.49 L147.7,522.49 L148.2,522.58 L148.7,522.54 L149.2,522.31 L149.7,522.01 L150.2,521.80 L150.7,521.79 L151.2,521.94 L151.7,522.12 L152.2,522.25 L152.7,522.28 L153.2,522.16 L153.7,521.88 L154.2,521.50 L154.7,521.23 L155.2,521.16 L155.7,521.11 L156.2,520.97 L156.7,520.68 L157.2,520.23 L157.7,519.64 L158.2,518.46 L158.7,515.23 L159.2,507.16 L159.7,491.16 L160.2,467.88 L160.7,446.87 L161.2,444.62 L161.7,463.37 L162.2,487.30 L162.7,505.12 L163.2,514.70 L163.7,518.64 L164.2,520.12 L164.7,520.80 L165.2,521.10 L165.7,521.23 L166.2,521.40 L166.7,521.60 L167.2,521.74 L167.7,521.84 L168.2,521.86 L168.7,521.75 L169.2,521.74 L169.7,521.93 L170.2,522.03 L170.7,521.90 L171.2,521.67 L171.7,521.49 L172.2,521.20 L172.7,520.55 L173.2,519.60 L173.7,518.57 L174.2,517.55 L174.7,516.78 L175.2,516.64 L175.7,517.10 L176.2,517.82 L176.7,518.76 L177.2,519.83 L177.7,520.70 L178.2,521.18 L178.7,521.43 L179.2,521.69 L179.7,521.88 L180.2,521.91 L180.7,521.97 L181.2,522.05 L181.7,521.76 L182.2,521.07 L182.7,520.42 L183.2,520.14 L183.7,520.11 L184.2,520.12 L184.7,519.97 L185.2,519.63 L185.7,519.24 L186.2,518.87 L186.7,518.53 L187.2,518.29 L187.7,518.22 L188.2,518.10 L188.7,517.61 L189.2,516.88 L189.7,516.26 L190.2,515.83 L190.7,515.57 L191.2,515.54 L191.7,515.67 L192.2,515.73 L192.7,515.56 L193.2,515.25 L193.7,514.94 L194.2,514.68 L194.7,514.37 L195.2,513.90 L195.7,513.16 L196.2,512.07 L196.7,510.56 L197.2,508.41 L197.7,505.46 L198.2,501.97 L198.7,498.40 L199.2,495.04 L199.7,492.27 L200.2,490.96 L200.7,491.75 L201.2,494.23 L201.7,497.52 L202.2,500.90 L202.7,503.84 L203.2,505.97 L203.7,507.35 L204.2,508.24 L204.7,508.76 L205.2,508.95 L205.7,508.99 L206.2,508.96 L206.7,508.72 L207.2,508.33 L207.7,507.84 L208.2,507.03 L208.7,505.89 L209.2,504.54 L209.7,503.13 L210.2,501.98 L210.7,501.48 L211.2,501.71 L211.7,502.40 L212.2,503.28 L212.7,504.12 L213.2,504.87 L213.7,505.59 L214.2,506.21 L214.7,506.63 L215.2,506.74 L215.7,506.50 L216.2,506.09 L216.7,505.68 L217.2,505.32 L217.7,504.91 L218.2,504.46 L218.7,504.06 L219.2,503.70 L219.7,503.28 L220.2,502.73 L220.7,502.02 L221.2,501.16 L221.7,499.97 L222.2,498.19 L222.7,495.68 L223.2,492.09 L223.7,487.43 L224.2,482.74 L224.7,479.98 L225.2,481.61 L225.7,487.95 L226.2,496.57 L226.7,505.34 L227.2,512.69 L227.7,517.37 L228.2,519.56 L228.7,520.45 L229.2,520.91 L229.7,521.20 L230.2,521.38 L230.7,521.58 L231.2,521.73 L231.7,521.75 L232.2,521.77 L232.7,521.86 L233.2,521.99 L233.7,522.14 L234.2,522.11 L234.7,521.97 L235.2,521.93 L235.7,521.96 L236.2,522.03 L236.7,522.13 L237.2,522.24 L237.7,522.34 L238.2,522.41 L238.7,522.47 L239.2,522.50 L239.7,522.42 L240.2,522.25 L240.7,522.12 L241.2,522.20 L241.7,522.50 L242.2,522.84 L242.7,523.00 L243.2,522.88 L243.7,522.62 L244.2,522.44 L244.7,522.43 L245.2,522.53 L245.7,522.60 L246.2,522.45 L246.7,522.20 L247.2,522.14 L247.7,522.22 L248.2,522.17 L248.7,522.01 L249.2,521.80 L249.7,521.44 L250.2,520.96 L250.7,520.49 L251.2,520.21 L251.7,520.21 L252.2,520.37 L252.7,520.68 L253.2,521.12 L253.7,521.53 L254.2,521.72 L254.7,521.71 L255.2,521.67 L255.7,521.73 L256.2,521.90 L256.7,522.15 L257.2,522.40 L257.7,522.63 L258.2,522.79 L258.7,522.77 L259.2,522.64 L259.7,522.55 L260.2,522.57 L260.7,522.65 L261.2,522.61 L261.7,522.53 L262.2,522.62 L262.7,522.73 L263.2,522.70 L263.7,522.48 L264.2,522.27 L264.7,522.35 L265.2,522.55 L265.7,522.50 L266.2,522.32 L266.7,522.23 L267.2,522.05 L267.7,521.76 L268.2,521.65 L268.7,521.86 L269.2,522.19 L269.7,522.38 L270.2,522.45 L270.7,522.46 L271.2,522.31 L271.7,522.10 L272.2,522.02 L272.7,522.02 L273.2,522.04 L273.7,522.13 L274.2,522.20 L274.7,522.17 L275.2,522.17 L275.7,522.35 L276.2,522.46 L276.7,522.28 L277.2,522.16 L277.7,522.32 L278.2,522.49 L278.7,522.47 L279.2,522.38 L279.7,522.32 L280.2,522.18 L280.7,522.06 L281.2,522.14 L281.7,522.34 L282.2,522.52 L282.7,522.58 L283.2,522.57 L283.7,522.56 L284.2,522.49 L284.7,522.28 L285.2,522.00 L285.7,521.91 L286.2,521.96 L286.7,521.97 L287.2,521.98 L287.7,522.01 L288.2,522.03 L288.7,522.05 L289.2,522.00 L289.7,521.97 L290.2,522.19 L290.7,522.37 L291.2,522.24 L291.7,522.09 L292.2,522.06 L292.7,521.92 L293.2,521.60 L293.7,521.38 L294.2,521.31 L294.7,521.24 L295.2,521.10 L295.7,520.85 L296.2,520.53 L296.7,520.21 L297.2,519.93 L297.7,519.76 L298.2,519.71 L298.7,519.73 L299.2,519.88 L299.7,520.09 L300.2,520.16 L300.7,520.20 L301.2,520.37 L301.7,520.52 L302.2,520.63 L302.7,520.72 L303.2,520.74 L303.7,520.71 L304.2,520.70 L304.7,520.76 L305.2,520.68 L305.7,520.42 L306.2,520.27 L306.7,520.13 L307.2,519.85 L307.7,519.66 L308.2,519.55 L308.7,519.29 L309.2,518.81 L309.7,518.08 L310.2,517.17 L310.7,516.19 L311.2,515.06 L311.7,513.64 L312.2,512.05 L312.7,510.83 L313.2,510.57 L313.7,511.23 L314.2,512.16 L314.7,512.99 L315.2,513.75 L315.7,514.39 L316.2,514.77 L316.7,514.98 L317.2,515.15 L317.7,515.38 L318.2,515.62 L318.7,515.76 L319.2,515.80 L319.7,515.82 L320.2,515.82 L320.7,515.75 L321.2,515.41 L321.7,514.80 L322.2,514.15 L322.7,513.74 L323.2,513.75 L323.7,513.91 L324.2,513.84 L324.7,513.60 L325.2,513.35 L325.7,512.99 L326.2,512.47 L326.7,512.02 L327.2,511.82 L327.7,511.71 L328.2,511.44 L328.7,510.94 L329.2,510.37 L329.7,509.82 L330.2,509.10 L330.7,508.12 L331.2,506.89 L331.7,505.32 L332.2,503.43 L332.7,501.53 L333.2,500.02 L333.7,499.09 L334.2,498.75 L334.7,499.17 L335.2,500.43 L335.7,502.39 L336.2,504.78 L336.7,507.39 L337.2,510.19 L337.7,512.90 L338.2,515.16 L338.7,516.91 L339.2,518.29 L339.7,519.40 L340.2,520.28 L340.7,520.82 L341.2,521.08 L341.7,521.21 L342.2,521.33 L342.7,521.57 L343.2,521.94 L343.7,522.25 L344.2,522.31 L344.7,522.16 L345.2,522.07 L345.7,522.06 L346.2,521.93 L346.7,521.77 L347.2,521.84 L347.7,522.06 L348.2,522.26 L348.7,522.41 L349.2,522.55 L349.7,522.59 L350.2,522.49 L350.7,522.39 L351.2,522.40 L351.7,522.51 L352.2,522.57 L352.7,522.52 L353.2,522.38 L353.7,522.16 L354.2,522.03 L354.7,522.15 L355.2,522.46 L355.7,522.71 L356.2,522.81 L356.7,522.80 L357.2,522.84 L357.7,522.86 L358.2,522.71 L358.7,522.48 L359.2,522.36 L359.7,522.32 L360.2,522.37 L360.7,522.52 L361.2,522.66 L361.7,522.73 L362.2,522.73 L362.7,522.59 L363.2,522.41 L363.7,522.32 L364.2,522.36 L364.7,522.51 L365.2,522.71 L365.7,522.85 L366.2,522.81 L366.7,522.61 L367.2,522.34 L367.7,522.18 L368.2,522.21 L368.7,522.37 L369.2,522.58 L369.7,522.77 L370.2,522.90 L370.7,522.90 L371.2,522.80 L371.7,522.69 L372.2,522.66 L372.7,522.68 L373.2,522.64 L373.7,522.62 L374.2,522.78 L374.7,522.88 L375.2,522.66 L375.7,522.32 L376.2,522.13 L376.7,522.18 L377.2,522.38 L377.7,522.55 L378.2,522.72 L378.7,522.90 L379.2,522.83 L379.7,522.54 L380.2,522.35 L380.7,522.19 L381.2,521.88 L381.7,521.37 L382.2,520.65 L382.7,519.61 L383.2,518.22 L383.7,516.91 L384.2,516.37 L384.7,516.91 L385.2,518.14 L385.7,519.55 L386.2,520.69 L386.7,521.30 L387.2,521.48 L387.7,521.51 L388.2,521.55 L388.7,521.62 L389.2,521.66 L389.7,521.55 L390.2,521.37 L390.7,521.31 L391.2,521.17 L391.7,520.71 L392.2,520.07 L392.7,519.51 L393.2,519.29 L393.7,519.61 L394.2,520.31 L394.7,521.12 L395.2,521.76 L395.7,522.03 L396.2,521.96 L396.7,521.80 L397.2,521.76 L397.7,521.82 L398.2,521.86 L398.7,521.95 L399.2,522.18 L399.7,522.37 L400.2,522.40 L400.7,522.28 L401.2,522.08 L401.7,522.03 L402.2,522.26 L402.7,522.57 L403.2,522.69 L403.7,522.65 L404.2,522.65 L404.7,522.71 L405.2,522.74 L405.7,522.66 L406.2,522.53 L406.7,522.40 L407.2,522.21 L407.7,522.04 L408.2,522.07 L408.7,522.24 L409.2,522.37 L409.7,522.42 L410.2,522.50 L410.7,522.54 L411.2,522.48 L411.7,522.51 L412.2,522.71 L412.7,522.73 L413.2,522.45 L413.7,522.17 L414.2,522.19 L414.7,522.41 L415.2,522.56 L415.7,522.53 L416.2,522.39 L416.7,522.36 L417.2,522.45 L417.7,522.54 L418.2,522.54 L418.7,522.39 L419.2,522.11 L419.7,521.85 L420.2,521.79 L420.7,521.90 L421.2,522.14 L421.7,522.44 L422.2,522.51 L422.7,522.29 L423.2,522.03 L423.7,521.97 L424.2,522.09 L424.7,522.24 L425.2,522.20 L425.7,521.95 L426.2,521.58 L426.7,521.25 L427.2,521.15 L427.7,521.21 L428.2,521.25 L428.7,521.12 L429.2,520.88 L429.7,520.69 L430.2,520.38 L430.7,519.78 L431.2,519.10 L431.7,518.50 L432.2,517.99 L432.7,517.72 L433.2,517.77 L433.7,517.96 L434.2,518.21 L434.7,518.68 L435.2,519.26 L435.7,519.71 L436.2,520.05 L436.7,520.36 L437.2,520.57 L437.7,520.64 L438.2,520.65 L438.7,520.69 L439.2,520.71 L439.7,520.72 L440.2,520.68 L440.7,520.50 L441.2,520.20 L441.7,519.81 L442.2,519.35 L442.7,518.92 L443.2,518.54 L443.7,518.11 L444.2,517.53 L444.7,516.92 L445.2,516.35 L445.7,515.75 L446.2,515.27 L446.7,515.10 L447.2,515.14 L447.7,515.42 L448.2,515.94 L448.7,516.56 L449.2,517.27 L449.7,517.97 L450.2,518.48 L450.7,518.95 L451.2,519.40 L451.7,519.76 L452.2,520.20 L452.7,520.73 L453.2,521.05 L453.7,521.09 L454.2,521.15 L454.7,521.29 L455.2,521.33 L455.7,521.38 L456.2,521.56 L456.7,521.80 L457.2,522.03 L457.7,522.21 L458.2,522.26 L458.7,522.16 L459.2,521.99 L459.7,521.88 L460.2,521.93 L460.7,522.02 L461.2,522.06 L461.7,522.11 L462.2,522.31 L462.7,522.61 L463.2,522.71 L463.7,522.55 L464.2,522.42 L464.7,522.46 L465.2,522.55 L465.7,522.53 L466.2,522.41 L466.7,522.31 L467.2,522.25 L467.7,522.25 L468.2,522.30 L468.7,522.37 L469.2,522.48 L469.7,522.60 L470.2,522.67 L470.7,522.73 L471.2,522.82" fill="none" stroke="#000" stroke-width="2.2" stroke-linejoin="round"/>
<path d="M48.2,444.39 L48.7,444.66 L49.2,444.85 L49.7,444.76 L50.2,444.51 L50.7,444.36 L51.2,444.38 L51.7,444.42 L52.2,444.49 L52.7,444.61 L53.2,444.64 L53.7,444.66 L54.2,444.86 L54.7,445.06 L55.2,445.14 L55.7,445.15 L56.2,445.18 L56.7,445.25 L57.2,445.24 L57.7,445.16 L58.2,445.09 L58.7,444.93 L59.2,444.68 L59.7,444.54 L60.2,444.57 L60.7,444.62 L61.2,444.63 L61.7,444.72 L62.2,444.72 L62.7,444.49 L63.2,444.30 L63.7,444.40 L64.2,444.55 L64.7,444.47 L65.2,444.27 L65.7,444.21 L66.2,444.36 L66.7,444.50 L67.2,444.48 L67.7,444.42 L68.2,444.50 L68.7,444.60 L69.2,444.55 L69.7,444.46 L70.2,444.54 L70.7,444.62 L71.2,444.38 L71.7,444.08 L72.2,443.96 L72.7,444.05 L73.2,444.21 L73.7,444.07 L74.2,443.63 L74.7,443.51 L75.2,443.91 L75.7,444.35 L76.2,444.51 L76.7,444.41 L77.2,444.16 L77.7,443.92 L78.2,443.82 L78.7,443.96 L79.2,444.29 L79.7,444.59 L80.2,444.71 L80.7,444.56 L81.2,444.42 L81.7,444.48 L82.2,444.37 L82.7,443.72 L83.2,442.56 L83.7,440.89 L84.2,438.53 L84.7,436.37 L85.2,436.59 L85.7,438.91 L86.2,441.15 L86.7,442.52 L87.2,443.28 L87.7,443.77 L88.2,444.16 L88.7,444.47 L89.2,444.62 L89.7,444.50 L90.2,444.36 L90.7,444.50 L91.2,444.74 L91.7,444.82 L92.2,444.69 L92.7,444.46 L93.2,444.35 L93.7,444.29 L94.2,444.11 L94.7,444.06 L95.2,444.23 L95.7,444.27 L96.2,444.10 L96.7,443.91 L97.2,443.84 L97.7,443.96 L98.2,444.14 L98.7,444.16 L99.2,444.11 L99.7,444.13 L100.2,444.14 L100.7,444.21 L101.2,444.35 L101.7,444.37 L102.2,444.40 L102.7,444.51 L103.2,444.52 L103.7,444.54 L104.2,444.66 L104.7,444.71 L105.2,444.63 L105.7,444.52 L106.2,444.44 L106.7,444.36 L107.2,444.27 L107.7,444.33 L108.2,444.41 L108.7,444.19 L109.2,443.65 L109.7,442.69 L110.2,441.31 L110.7,440.43 L111.2,440.94 L111.7,442.18 L112.2,443.33 L112.7,443.92 L113.2,443.97 L113.7,443.95 L114.2,444.02 L114.7,444.03 L115.2,443.96 L115.7,443.85 L116.2,443.73 L116.7,443.77 L117.2,443.93 L117.7,444.04 L118.2,444.05 L118.7,444.04 L119.2,444.08 L119.7,444.00 L120.2,443.79 L120.7,443.64 L121.2,443.70 L121.7,443.87 L122.2,444.01 L122.7,444.25 L123.2,444.55 L123.7,444.70 L124.2,444.57 L124.7,444.25 L125.2,444.11 L125.7,444.26 L126.2,444.43 L126.7,444.48 L127.2,444.49 L127.7,444.54 L128.2,444.55 L128.7,444.48 L129.2,444.38 L129.7,444.29 L130.2,444.24 L130.7,444.25 L131.2,444.27 L131.7,444.30 L132.2,444.36 L132.7,444.33 L133.2,444.23 L133.7,444.15 L134.2,444.20 L134.7,444.20 L135.2,443.92 L135.7,443.61 L136.2,443.64 L136.7,443.99 L137.2,444.30 L137.7,444.29 L138.2,444.07 L138.7,443.91 L139.2,444.00 L139.7,444.20 L140.2,444.22 L140.7,444.05 L141.2,443.90 L141.7,443.75 L142.2,443.58 L142.7,443.46 L143.2,443.32 L143.7,443.29 L144.2,443.51 L144.7,443.63 L145.2,443.54 L145.7,443.57 L146.2,443.81 L146.7,444.01 L147.2,444.07 L147.7,443.97 L148.2,443.78 L148.7,443.62 L149.2,443.50 L149.7,443.41 L150.2,443.40 L150.7,443.49 L151.2,443.52 L151.7,443.39 L152.2,443.18 L152.7,443.02 L153.2,442.84 L153.7,442.61 L154.2,442.41 L154.7,442.21 L155.2,441.89 L155.7,441.41 L156.2,440.57 L156.7,438.62 L157.2,434.41 L157.7,427.52 L158.2,419.41 L158.7,414.24 L159.2,416.53 L159.7,423.97 L160.2,431.50 L160.7,436.89 L161.2,439.97 L161.7,441.47 L162.2,442.10 L162.7,442.28 L163.2,442.39 L163.7,442.60 L164.2,442.80 L164.7,442.86 L165.2,442.91 L165.7,443.02 L166.2,442.91 L166.7,442.58 L167.2,442.31 L167.7,442.24 L168.2,442.30 L168.7,442.28 L169.2,442.12 L169.7,441.92 L170.2,441.77 L170.7,441.75 L171.2,441.74 L171.7,441.48 L172.2,440.99 L172.7,440.69 L173.2,440.59 L173.7,440.48 L174.2,440.33 L174.7,440.32 L175.2,440.52 L175.7,440.86 L176.2,441.16 L176.7,441.38 L177.2,441.53 L177.7,441.61 L178.2,441.77 L178.7,442.11 L179.2,442.44 L179.7,442.69 L180.2,442.88 L180.7,442.83 L181.2,442.57 L181.7,442.50 L182.2,442.60 L182.7,442.37 L183.2,441.78 L183.7,441.25 L184.2,440.94 L184.7,440.69 L185.2,440.44 L185.7,440.22 L186.2,439.99 L186.7,439.84 L187.2,439.72 L187.7,439.43 L188.2,439.13 L188.7,438.84 L189.2,438.42 L189.7,437.84 L190.2,437.31 L190.7,436.98 L191.2,436.68 L191.7,436.16 L192.2,435.59 L192.7,435.36 L193.2,435.33 L193.7,435.28 L194.2,435.03 L194.7,434.38 L195.2,433.38 L195.7,432.27 L196.2,431.18 L196.7,430.14 L197.2,429.16 L197.7,428.25 L198.2,427.68 L198.7,427.92 L199.2,428.99 L199.7,430.19 L200.2,431.08 L200.7,431.79 L201.2,432.41 L201.7,432.85 L202.2,433.02 L202.7,433.11 L203.2,433.15 L203.7,433.00 L204.2,432.71 L204.7,432.46 L205.2,432.33 L205.7,432.11 L206.2,431.69 L206.7,431.24 L207.2,430.61 L207.7,429.60 L208.2,428.30 L208.7,426.98 L209.2,425.95 L209.7,425.36 L210.2,425.35 L210.7,426.01 L211.2,427.27 L211.7,428.67 L212.2,429.67 L212.7,430.14 L213.2,430.27 L213.7,430.26 L214.2,430.27 L214.7,430.32 L215.2,430.28 L215.7,430.24 L216.2,430.29 L216.7,430.10 L217.2,429.55 L217.7,429.03 L218.2,428.55 L218.7,427.81 L219.2,426.88 L219.7,425.64 L220.2,423.38 L220.7,419.70 L221.2,414.59 L221.7,408.64 L222.2,404.07 L222.7,403.87 L223.2,408.49 L223.7,415.57 L224.2,422.74 L224.7,428.78 L225.2,433.55 L225.7,437.21 L226.2,439.72 L226.7,441.16 L227.2,441.88 L227.7,442.31 L228.2,442.61 L228.7,442.78 L229.2,442.78 L229.7,442.59 L230.2,442.42 L230.7,442.45 L231.2,442.74 L231.7,443.12 L232.2,443.25 L232.7,443.13 L233.2,442.98 L233.7,442.87 L234.2,442.77 L234.7,442.74 L235.2,442.77 L235.7,442.83 L236.2,442.98 L236.7,443.04 L237.2,442.94 L237.7,442.88 L238.2,443.06 L238.7,443.33 L239.2,443.49 L239.7,443.60 L240.2,443.53 L240.7,443.32 L241.2,443.32 L241.7,443.57 L242.2,443.64 L242.7,443.45 L243.2,443.41 L243.7,443.60 L244.2,443.77 L244.7,443.73 L245.2,443.49 L245.7,443.28 L246.2,443.24 L246.7,443.18 L247.2,442.82 L247.7,442.48 L248.2,442.52 L248.7,442.73 L249.2,442.71 L249.7,442.42 L250.2,442.21 L250.7,442.34 L251.2,442.59 L251.7,442.79 L252.2,442.95 L252.7,443.02 L253.2,443.01 L253.7,443.03 L254.2,443.06 L254.7,443.13 L255.2,443.23 L255.7,443.34 L256.2,443.53 L256.7,443.58 L257.2,443.39 L257.7,443.24 L258.2,443.33 L258.7,443.54 L259.2,443.68 L259.7,443.70 L260.2,443.60 L260.7,443.41 L261.2,443.24 L261.7,443.22 L262.2,443.36 L262.7,443.48 L263.2,443.55 L263.7,443.56 L264.2,443.28 L264.7,442.93 L265.2,442.92 L265.7,443.26 L266.2,443.73 L266.7,443.92 L267.2,443.70 L267.7,443.47 L268.2,443.45 L268.7,443.58 L269.2,443.71 L269.7,443.69 L270.2,443.59 L270.7,443.52 L271.2,443.48 L271.7,443.56 L272.2,443.66 L272.7,443.51 L273.2,443.20 L273.7,443.06 L274.2,443.15 L274.7,443.32 L275.2,443.37 L275.7,443.32 L276.2,443.41 L276.7,443.57 L277.2,443.67 L277.7,443.76 L278.2,443.82 L278.7,443.79 L279.2,443.75 L279.7,443.71 L280.2,443.53 L280.7,443.30 L281.2,443.23 L281.7,443.14 L282.2,442.89 L282.7,442.62 L283.2,442.52 L283.7,442.64 L284.2,442.81 L284.7,442.91 L285.2,443.00 L285.7,443.15 L286.2,443.11 L286.7,442.86 L287.2,442.60 L287.7,442.43 L288.2,442.38 L288.7,442.46 L289.2,442.50 L289.7,442.39 L290.2,442.22 L290.7,442.18 L291.2,442.30 L291.7,442.56 L292.2,442.70 L292.7,442.43 L293.2,441.85 L293.7,441.30 L294.2,441.01 L294.7,441.03 L295.2,441.13 L295.7,441.08 L296.2,440.92 L296.7,440.83 L297.2,440.85 L297.7,440.78 L298.2,440.54 L298.7,440.35 L299.2,440.37 L299.7,440.42 L300.2,440.31 L300.7,440.20 L301.2,440.28 L301.7,440.69 L302.2,441.31 L302.7,441.69 L303.2,441.67 L303.7,441.58 L304.2,441.43 L304.7,441.22 L305.2,441.06 L305.7,440.95 L306.2,440.82 L306.7,440.54 L307.2,440.06 L307.7,439.63 L308.2,439.18 L308.7,438.61 L309.2,438.01 L309.7,437.27 L310.2,436.28 L310.7,435.03 L311.2,433.60 L311.7,432.36 L312.2,431.79 L312.7,431.75 L313.2,431.97 L313.7,432.37 L314.2,432.96 L314.7,433.73 L315.2,434.52 L315.7,435.25 L316.2,435.77 L316.7,435.96 L317.2,435.94 L317.7,435.96 L318.2,436.12 L318.7,436.23 L319.2,436.21 L319.7,436.22 L320.2,436.08 L320.7,435.60 L321.2,435.14 L321.7,435.04 L322.2,435.12 L322.7,434.88 L323.2,434.18 L323.7,433.39 L324.2,432.83 L324.7,432.38 L325.2,431.90 L325.7,431.42 L326.2,430.73 L326.7,429.79 L327.2,428.78 L327.7,427.70 L328.2,426.32 L328.7,424.63 L329.2,422.73 L329.7,420.49 L330.2,417.87 L330.7,414.88 L331.2,411.36 L331.7,407.46 L332.2,403.82 L332.7,401.18 L333.2,399.83 L333.7,399.86 L334.2,401.42 L334.7,404.40 L335.2,408.31 L335.7,412.61 L336.2,416.73 L336.7,420.41 L337.2,423.74 L337.7,426.78 L338.2,429.47 L338.7,431.95 L339.2,434.30 L339.7,436.35 L340.2,437.83 L340.7,438.69 L341.2,439.23 L341.7,439.69 L342.2,440.07 L342.7,440.42 L343.2,440.90 L343.7,441.43 L344.2,441.79 L344.7,441.83 L345.2,441.71 L345.7,441.77 L346.2,442.02 L346.7,442.23 L347.2,442.37 L347.7,442.56 L348.2,442.76 L348.7,442.83 L349.2,442.95 L349.7,443.21 L350.2,443.33 L350.7,443.27 L351.2,443.25 L351.7,443.30 L352.2,443.34 L352.7,443.24 L353.2,443.10 L353.7,443.07 L354.2,443.18 L354.7,443.35 L355.2,443.41 L355.7,443.23 L356.2,442.83 L356.7,442.57 L357.2,442.69 L357.7,443.00 L358.2,443.38 L358.7,443.61 L359.2,443.52 L359.7,443.28 L360.2,443.07 L360.7,442.86 L361.2,442.64 L361.7,442.52 L362.2,442.67 L362.7,443.02 L363.2,443.31 L363.7,443.43 L364.2,443.45 L364.7,443.48 L365.2,443.60 L365.7,443.77 L366.2,443.83 L366.7,443.70 L367.2,443.55 L367.7,443.63 L368.2,443.79 L368.7,443.80 L369.2,443.85 L369.7,444.01 L370.2,444.02 L370.7,443.87 L371.2,443.82 L371.7,443.84 L372.2,443.65 L372.7,443.23 L373.2,442.70 L373.7,442.26 L374.2,442.13 L374.7,442.23 L375.2,442.23 L375.7,442.02 L376.2,441.80 L376.7,441.78 L377.2,441.97 L377.7,442.31 L378.2,442.82 L378.7,443.28 L379.2,443.33 L379.7,442.78 L380.2,441.83 L380.7,440.69 L381.2,439.53 L381.7,438.25 L382.2,436.36 L382.7,433.39 L383.2,429.52 L383.7,425.82 L384.2,424.21 L384.7,425.79 L385.2,429.30 L385.7,432.92 L386.2,436.00 L386.7,438.50 L387.2,440.35 L387.7,441.28 L388.2,441.36 L388.7,441.08 L389.2,440.87 L389.7,440.82 L390.2,440.99 L390.7,441.40 L391.2,441.93 L391.7,442.45 L392.2,442.88 L392.7,443.12 L393.2,443.23 L393.7,443.36 L394.2,443.55 L394.7,443.74 L395.2,443.81 L395.7,443.77 L396.2,443.67 L396.7,443.68 L397.2,443.83 L397.7,443.97 L398.2,444.04 L398.7,443.93 L399.2,443.68 L399.7,443.59 L400.2,443.65 L400.7,443.72 L401.2,443.87 L401.7,444.10 L402.2,444.22 L402.7,444.22 L403.2,444.18 L403.7,444.13 L404.2,444.12 L404.7,444.21 L405.2,444.28 L405.7,444.20 L406.2,444.03 L406.7,443.99 L407.2,444.12 L407.7,444.20 L408.2,444.16 L408.7,444.25 L409.2,444.56 L409.7,444.74 L410.2,444.57 L410.7,444.28 L411.2,443.95 L411.7,443.72 L412.2,443.81 L412.7,444.08 L413.2,444.23 L413.7,444.11 L414.2,443.94 L414.7,443.92 L415.2,443.92 L415.7,443.84 L416.2,443.71 L416.7,443.67 L417.2,443.89 L417.7,444.26 L418.2,444.45 L418.7,444.35 L419.2,444.21 L419.7,444.21 L420.2,444.25 L420.7,444.17 L421.2,443.89 L421.7,443.55 L422.2,443.31 L422.7,443.18 L423.2,443.02 L423.7,442.73 L424.2,442.32 L424.7,442.01 L425.2,441.95 L425.7,442.10 L426.2,442.36 L426.7,442.52 L427.2,442.67 L427.7,443.00 L428.2,443.32 L428.7,443.57 L429.2,443.75 L429.7,443.68 L430.2,443.47 L430.7,443.43 L431.2,443.48 L431.7,443.44 L432.2,443.24 L432.7,442.91 L433.2,442.59 L433.7,442.38 L434.2,442.22 L434.7,441.98 L435.2,441.69 L435.7,441.53 L436.2,441.47 L436.7,441.26 L437.2,440.85 L437.7,440.50 L438.2,440.48 L438.7,440.74 L439.2,441.02 L439.7,441.27 L440.2,441.41 L440.7,441.34 L441.2,441.13 L441.7,440.86 L442.2,440.46 L442.7,439.92 L443.2,439.25 L443.7,438.34 L444.2,437.19 L444.7,435.98 L445.2,434.75 L445.7,433.44 L446.2,431.98 L446.7,430.50 L447.2,429.18 L447.7,428.15 L448.2,427.42 L448.7,427.02 L449.2,427.26 L449.7,428.19 L450.2,429.34 L450.7,430.58 L451.2,432.10 L451.7,433.88 L452.2,435.58 L452.7,436.82 L453.2,437.82 L453.7,438.93 L454.2,440.04 L454.7,440.79 L455.2,441.08 L455.7,441.36 L456.2,441.89 L456.7,442.33 L457.2,442.53 L457.7,442.79 L458.2,443.26 L458.7,443.57 L459.2,443.63 L459.7,443.81 L460.2,444.13 L460.7,444.38 L461.2,444.38 L461.7,444.32 L462.2,444.34 L462.7,444.30 L463.2,444.20 L463.7,444.12 L464.2,444.01 L464.7,444.09 L465.2,444.32 L465.7,444.33 L466.2,444.18 L466.7,444.02 L467.2,443.83 L467.7,443.79 L468.2,443.96 L468.7,444.22 L469.2,444.48 L469.7,444.62 L470.2,444.64 L470.7,444.69 L471.2,444.80" fill="none" stroke="#00e600" stroke-width="2.2" stroke-linejoin="round"/>
<path d="M48.2,402.26 L48.7,402.06 L49.2,401.94 L49.7,401.90 L50.2,401.76 L50.7,401.68 L51.2,401.91 L51.7,402.27 L52.2,402.43 L52.7,402.38 L53.2,402.25 L53.7,402.15 L54.2,402.14 L54.7,402.36 L55.2,402.60 L55.7,402.46 L56.2,402.14 L56.7,402.04 L57.2,402.13 L57.7,402.05 L58.2,401.68 L58.7,401.39 L59.2,401.43 L59.7,401.62 L60.2,401.77 L60.7,401.74 L61.2,401.40 L61.7,400.73 L62.2,399.91 L62.7,399.13 L63.2,398.79 L63.7,399.29 L64.2,400.15 L64.7,400.90 L65.2,401.33 L65.7,401.44 L66.2,401.58 L66.7,401.82 L67.2,401.93 L67.7,401.90 L68.2,401.88 L68.7,401.88 L69.2,401.85 L69.7,401.76 L70.2,401.74 L70.7,401.88 L71.2,401.97 L71.7,401.91 L72.2,401.91 L72.7,401.92 L73.2,401.86 L73.7,401.86 L74.2,402.11 L74.7,402.61 L75.2,403.01 L75.7,402.93 L76.2,402.59 L76.7,402.36 L77.2,402.30 L77.7,402.33 L78.2,402.29 L78.7,402.20 L79.2,402.25 L79.7,402.39 L80.2,402.42 L80.7,402.26 L81.2,402.11 L81.7,402.17 L82.2,402.27 L82.7,402.23 L83.2,402.04 L83.7,401.76 L84.2,401.72 L84.7,402.03 L85.2,402.29 L85.7,402.31 L86.2,402.29 L86.7,402.22 L87.2,402.03 L87.7,401.93 L88.2,402.03 L88.7,402.11 L89.2,402.08 L89.7,402.04 L90.2,401.95 L90.7,401.96 L91.2,402.07 L91.7,401.97 L92.2,401.84 L92.7,402.01 L93.2,402.33 L93.7,402.42 L94.2,402.32 L94.7,402.26 L95.2,402.21 L95.7,402.12 L96.2,402.06 L96.7,401.99 L97.2,401.89 L97.7,401.89 L98.2,401.96 L98.7,401.96 L99.2,401.95 L99.7,402.09 L100.2,402.33 L100.7,402.49 L101.2,402.61 L101.7,402.72 L102.2,402.78 L102.7,402.67 L103.2,402.43 L103.7,402.33 L104.2,402.48 L104.7,402.63 L105.2,402.39 L105.7,401.90 L106.2,401.82 L106.7,402.15 L107.2,402.41 L107.7,402.41 L108.2,402.34 L108.7,402.32 L109.2,402.32 L109.7,402.23 L110.2,402.00 L110.7,401.79 L111.2,401.80 L111.7,401.96 L112.2,402.06 L112.7,401.99 L113.2,401.88 L113.7,401.80 L114.2,401.65 L114.7,401.49 L115.2,401.56 L115.7,401.89 L116.2,402.25 L116.7,402.40 L117.2,402.40 L117.7,402.35 L118.2,402.27 L118.7,402.26 L119.2,402.34 L119.7,402.33 L120.2,402.15 L120.7,402.00 L121.2,401.96 L121.7,401.96 L122.2,402.01 L122.7,402.11 L123.2,402.12 L123.7,402.05 L124.2,402.02 L124.7,402.10 L125.2,402.22 L125.7,402.41 L126.2,402.64 L126.7,402.78 L127.2,402.74 L127.7,402.48 L128.2,402.13 L128.7,402.01 L129.2,402.08 L129.7,402.09 L130.2,401.95 L130.7,401.69 L131.2,401.45 L131.7,401.36 L132.2,401.43 L132.7,401.60 L133.2,401.70 L133.7,401.74 L134.2,401.79 L134.7,401.69 L135.2,401.39 L135.7,401.15 L136.2,401.09 L136.7,401.23 L137.2,401.62 L137.7,401.97 L138.2,402.01 L138.7,401.89 L139.2,401.81 L139.7,401.86 L140.2,401.97 L140.7,402.16 L141.2,402.41 L141.7,402.53 L142.2,402.34 L142.7,402.05 L143.2,401.92 L143.7,402.00 L144.2,402.13 L144.7,402.23 L145.2,402.26 L145.7,402.08 L146.2,401.80 L146.7,401.79 L147.2,401.90 L147.7,401.81 L148.2,401.62 L148.7,401.52 L149.2,401.65 L149.7,402.09 L150.2,402.43 L150.7,402.20 L151.2,401.66 L151.7,401.38 L152.2,401.41 L152.7,401.36 L153.2,401.00 L153.7,400.49 L154.2,399.75 L154.7,398.43 L155.2,396.74 L155.7,395.68 L156.2,396.03 L156.7,397.23 L157.2,398.48 L157.7,399.36 L158.2,399.59 L158.7,399.23 L159.2,398.33 L159.7,397.19 L160.2,396.85 L160.7,397.75 L161.2,398.89 L161.7,399.57 L162.2,399.91 L162.7,400.10 L163.2,400.14 L163.7,399.94 L164.2,399.50 L164.7,399.30 L165.2,399.54 L165.7,399.97 L166.2,400.40 L166.7,400.74 L167.2,400.93 L167.7,400.91 L168.2,400.77 L168.7,400.79 L169.2,400.95 L169.7,401.05 L170.2,400.99 L170.7,400.83 L171.2,400.81 L171.7,400.89 L172.2,400.87 L172.7,400.93 L173.2,401.12 L173.7,401.04 L174.2,400.82 L174.7,401.02 L175.2,401.44 L175.7,401.51 L176.2,401.33 L176.7,401.17 L177.2,401.14 L177.7,401.24 L178.2,401.41 L178.7,401.54 L179.2,401.49 L179.7,401.35 L180.2,401.30 L180.7,401.37 L181.2,401.52 L181.7,401.78 L182.2,402.05 L182.7,402.15 L183.2,402.12 L183.7,402.03 L184.2,401.92 L184.7,401.85 L185.2,401.85 L185.7,401.88 L186.2,401.93 L186.7,401.99 L187.2,401.87 L187.7,401.64 L188.2,401.53 L188.7,401.57 L189.2,401.66 L189.7,401.75 L190.2,401.69 L190.7,401.33 L191.2,400.96 L191.7,400.87 L192.2,401.06 L192.7,401.47 L193.2,401.76 L193.7,401.62 L194.2,401.34 L194.7,401.37 L195.2,401.55 L195.7,401.48 L196.2,401.28 L196.7,401.13 L197.2,400.68 L197.7,399.56 L198.2,397.89 L198.7,395.96 L199.2,393.88 L199.7,392.00 L200.2,391.18 L200.7,391.86 L201.2,393.57 L201.7,395.67 L202.2,397.70 L202.7,399.15 L203.2,399.90 L203.7,400.37 L204.2,400.86 L204.7,401.28 L205.2,401.42 L205.7,401.24 L206.2,400.98 L206.7,400.92 L207.2,401.17 L207.7,401.48 L208.2,401.54 L208.7,401.47 L209.2,401.54 L209.7,401.70 L210.2,401.74 L210.7,401.58 L211.2,401.34 L211.7,401.21 L212.2,401.36 L212.7,401.50 L213.2,401.42 L213.7,401.42 L214.2,401.51 L214.7,401.47 L215.2,401.39 L215.7,401.38 L216.2,401.29 L216.7,401.01 L217.2,400.70 L217.7,400.55 L218.2,400.47 L218.7,400.44 L219.2,400.47 L219.7,400.43 L220.2,400.21 L220.7,399.96 L221.2,399.89 L221.7,399.90 L222.2,399.81 L222.7,399.58 L223.2,399.30 L223.7,399.18 L224.2,399.18 L224.7,399.22 L225.2,399.39 L225.7,399.56 L226.2,399.64 L226.7,399.77 L227.2,400.18 L227.7,400.80 L228.2,401.33 L228.7,401.54 L229.2,401.49 L229.7,401.40 L230.2,401.45 L230.7,401.64 L231.2,401.90 L231.7,402.17 L232.2,402.22 L232.7,401.87 L233.2,401.43 L233.7,401.21 L234.2,401.27 L234.7,401.58 L235.2,401.92 L235.7,401.94 L236.2,401.89 L236.7,402.07 L237.2,402.18 L237.7,402.00 L238.2,401.82 L238.7,401.89 L239.2,402.14 L239.7,402.42 L240.2,402.65 L240.7,402.76 L241.2,402.77 L241.7,402.59 L242.2,402.20 L242.7,401.85 L243.2,401.82 L243.7,401.96 L244.2,402.07 L244.7,402.07 L245.2,402.00 L245.7,402.06 L246.2,402.31 L246.7,402.43 L247.2,402.45 L247.7,402.47 L248.2,402.33 L248.7,401.88 L249.2,401.44 L249.7,401.38 L250.2,401.54 L250.7,401.75 L251.2,402.02 L251.7,402.13 L252.2,402.03 L252.7,402.04 L253.2,402.14 L253.7,401.99 L254.2,401.82 L254.7,401.90 L255.2,402.00 L255.7,402.01 L256.2,401.98 L256.7,401.87 L257.2,401.83 L257.7,401.98 L258.2,402.08 L258.7,402.07 L259.2,402.17 L259.7,402.44 L260.2,402.61 L260.7,402.51 L261.2,402.36 L261.7,402.23 L262.2,402.22 L262.7,402.37 L263.2,402.53 L263.7,402.48 L264.2,402.22 L264.7,401.95 L265.2,401.94 L265.7,402.18 L266.2,402.43 L266.7,402.57 L267.2,402.60 L267.7,402.62 L268.2,402.47 L268.7,402.02 L269.2,401.53 L269.7,401.37 L270.2,401.61 L270.7,401.98 L271.2,402.20 L271.7,402.40 L272.2,402.60 L272.7,402.67 L273.2,402.49 L273.7,402.18 L274.2,402.00 L274.7,401.96 L275.2,401.93 L275.7,401.94 L276.2,402.04 L276.7,402.02 L277.2,401.81 L277.7,401.70 L278.2,401.78 L278.7,401.97 L279.2,402.12 L279.7,402.09 L280.2,401.94 L280.7,401.84 L281.2,401.89 L281.7,401.95 L282.2,401.87 L282.7,401.56 L283.2,401.27 L283.7,401.44 L284.2,401.92 L284.7,402.22 L285.2,402.14 L285.7,401.91 L286.2,401.91 L286.7,402.22 L287.2,402.33 L287.7,402.03 L288.2,401.66 L288.7,401.67 L289.2,402.14 L289.7,402.55 L290.2,402.52 L290.7,402.24 L291.2,401.91 L291.7,401.66 L292.2,401.51 L292.7,401.35 L293.2,401.34 L293.7,401.49 L294.2,401.57 L294.7,401.44 L295.2,401.10 L295.7,400.69 L296.2,400.44 L296.7,400.32 L297.2,400.13 L297.7,399.90 L298.2,399.78 L298.7,399.72 L299.2,399.63 L299.7,399.69 L300.2,400.02 L300.7,400.58 L301.2,401.06 L301.7,401.14 L302.2,400.91 L302.7,400.88 L303.2,401.06 L303.7,401.18 L304.2,401.29 L304.7,401.32 L305.2,401.04 L305.7,400.69 L306.2,400.64 L306.7,400.78 L307.2,400.73 L307.7,400.50 L308.2,400.46 L308.7,400.58 L309.2,400.54 L309.7,400.31 L310.2,400.02 L310.7,399.50 L311.2,398.85 L311.7,398.35 L312.2,397.86 L312.7,397.23 L313.2,396.90 L313.7,397.26 L314.2,397.99 L314.7,398.53 L315.2,398.93 L315.7,399.41 L316.2,399.80 L316.7,400.18 L317.2,400.49 L317.7,400.49 L318.2,400.24 L318.7,400.02 L319.2,399.88 L319.7,399.71 L320.2,399.81 L320.7,400.21 L321.2,400.31 L321.7,399.93 L322.2,399.47 L322.7,399.20 L323.2,398.85 L323.7,398.06 L324.2,396.88 L324.7,395.61 L325.2,394.38 L325.7,393.16 L326.2,392.12 L326.7,391.19 L327.2,390.17 L327.7,389.17 L328.2,388.35 L328.7,387.59 L329.2,386.69 L329.7,385.82 L330.2,385.21 L330.7,384.97 L331.2,385.22 L331.7,385.80 L332.2,386.53 L332.7,387.48 L333.2,388.77 L333.7,390.32 L334.2,391.75 L334.7,392.82 L335.2,393.70 L335.7,394.51 L336.2,395.41 L336.7,396.60 L337.2,397.93 L337.7,398.84 L338.2,399.14 L338.7,399.29 L339.2,399.61 L339.7,399.98 L340.2,400.32 L340.7,400.57 L341.2,400.70 L341.7,400.71 L342.2,400.58 L342.7,400.40 L343.2,400.31 L343.7,400.37 L344.2,400.50 L344.7,400.68 L345.2,400.87 L345.7,401.04 L346.2,401.02 L346.7,400.84 L347.2,400.82 L347.7,401.12 L348.2,401.60 L348.7,401.91 L349.2,401.86 L349.7,401.68 L350.2,401.53 L350.7,401.41 L351.2,401.29 L351.7,401.08 L352.2,401.16 L352.7,401.62 L353.2,401.72 L353.7,401.38 L354.2,401.12 L354.7,400.97 L355.2,400.74 L355.7,400.49 L356.2,400.44 L356.7,400.49 L357.2,400.38 L357.7,400.00 L358.2,399.31 L358.7,398.19 L359.2,396.53 L359.7,394.58 L360.2,392.85 L360.7,391.91 L361.2,391.95 L361.7,392.66 L362.2,393.70 L362.7,394.68 L363.2,395.40 L363.7,395.96 L364.2,396.50 L364.7,397.22 L365.2,398.10 L365.7,398.80 L366.2,399.23 L366.7,399.65 L367.2,400.20 L367.7,400.81 L368.2,401.43 L368.7,401.79 L369.2,401.68 L369.7,401.33 L370.2,401.04 L370.7,400.86 L371.2,400.79 L371.7,400.86 L372.2,401.05 L372.7,401.28 L373.2,401.40 L373.7,401.35 L374.2,401.27 L374.7,401.42 L375.2,401.77 L375.7,402.05 L376.2,402.15 L376.7,402.08 L377.2,401.90 L377.7,401.74 L378.2,401.76 L378.7,401.70 L379.2,401.45 L379.7,401.34 L380.2,401.23 L380.7,400.84 L381.2,400.19 L381.7,399.11 L382.2,397.42 L382.7,395.07 L383.2,392.12 L383.7,388.98 L384.2,386.72 L384.7,386.60 L385.2,388.67 L385.7,391.63 L386.2,394.55 L386.7,397.03 L387.2,398.61 L387.7,399.25 L388.2,399.43 L388.7,399.51 L389.2,399.48 L389.7,399.20 L390.2,398.95 L390.7,399.00 L391.2,398.96 L391.7,398.75 L392.2,398.87 L392.7,399.28 L393.2,399.72 L393.7,400.04 L394.2,400.28 L394.7,400.65 L395.2,400.98 L395.7,401.03 L396.2,401.01 L396.7,401.13 L397.2,401.35 L397.7,401.51 L398.2,401.49 L398.7,401.41 L399.2,401.38 L399.7,401.35 L400.2,401.14 L400.7,400.92 L401.2,400.99 L401.7,401.22 L402.2,401.50 L402.7,401.63 L403.2,401.52 L403.7,401.57 L404.2,401.88 L404.7,402.11 L405.2,402.11 L405.7,401.88 L406.2,401.67 L406.7,401.79 L407.2,402.03 L407.7,402.05 L408.2,401.86 L408.7,401.67 L409.2,401.63 L409.7,401.76 L410.2,401.86 L410.7,401.65 L411.2,401.36 L411.7,401.40 L412.2,401.61 L412.7,401.62 L413.2,401.40 L413.7,401.13 L414.2,400.87 L414.7,400.66 L415.2,400.71 L415.7,400.94 L416.2,401.08 L416.7,401.19 L417.2,401.24 L417.7,401.17 L418.2,401.11 L418.7,401.07 L419.2,400.82 L419.7,400.53 L420.2,400.39 L420.7,400.25 L421.2,400.09 L421.7,399.99 L422.2,399.84 L422.7,399.73 L423.2,399.80 L423.7,399.85 L424.2,399.71 L424.7,399.56 L425.2,399.59 L425.7,399.63 L426.2,399.49 L426.7,399.26 L427.2,399.03 L427.7,398.81 L428.2,398.71 L428.7,398.55 L429.2,398.20 L429.7,397.90 L430.2,397.67 L430.7,397.35 L431.2,397.04 L431.7,396.81 L432.2,396.39 L432.7,395.81 L433.2,395.45 L433.7,395.34 L434.2,395.30 L434.7,395.35 L435.2,395.49 L435.7,395.63 L436.2,395.71 L436.7,395.78 L437.2,395.77 L437.7,395.69 L438.2,395.68 L438.7,395.52 L439.2,394.93 L439.7,394.05 L440.2,393.14 L440.7,392.27 L441.2,391.36 L441.7,390.21 L442.2,388.85 L442.7,387.56 L443.2,386.36 L443.7,385.15 L444.2,384.12 L444.7,383.52 L445.2,383.61 L445.7,384.47 L446.2,385.67 L446.7,386.80 L447.2,388.01 L447.7,389.53 L448.2,391.25 L448.7,392.98 L449.2,394.60 L449.7,395.98 L450.2,397.05 L450.7,397.87 L451.2,398.44 L451.7,398.77 L452.2,399.04 L452.7,399.42 L453.2,399.76 L453.7,399.91 L454.2,400.09 L454.7,400.43 L455.2,400.66 L455.7,400.75 L456.2,400.86 L456.7,400.98 L457.2,400.97 L457.7,400.88 L458.2,400.96 L458.7,401.20 L459.2,401.31 L459.7,401.24 L460.2,401.17 L460.7,401.26 L461.2,401.50 L461.7,401.69 L462.2,401.82 L462.7,401.97 L463.2,401.98 L463.7,401.79 L464.2,401.50 L464.7,401.13 L465.2,400.90 L465.7,401.00 L466.2,401.26 L466.7,401.43 L467.2,401.47 L467.7,401.38 L468.2,401.29 L468.7,401.31 L469.2,401.32 L469.7,401.32 L470.2,401.29 L470.7,401.16 L471.2,401.02" fill="none" stroke="#0000f0" stroke-width="2.2" stroke-linejoin="round"/>
<path d="M48.2,382.23 L48.7,382.44 L49.2,381.86 L49.7,381.27 L50.2,381.53 L50.7,381.22 L51.2,382.29 L51.7,383.38 L52.2,381.83 L52.7,381.62 L53.2,382.61 L53.7,382.60 L54.2,382.22 L54.7,381.34 L55.2,382.14 L55.7,382.67 L56.2,380.97 L56.7,381.36 L57.2,380.21 L57.7,380.52 L58.2,380.29 L58.7,381.58 L59.2,381.02 L59.7,382.30 L60.2,382.35 L60.7,381.72 L61.2,379.76 L61.7,381.37 L62.2,382.09 L62.7,382.10 L63.2,380.72 L63.7,381.43 L64.2,381.12 L64.7,381.45 L65.2,382.97 L65.7,381.57 L66.2,382.17 L66.7,382.94 L67.2,381.75 L67.7,382.03 L68.2,382.29 L68.7,382.11 L69.2,381.07 L69.7,382.28 L70.2,383.27 L70.7,381.03 L71.2,382.81 L71.7,382.33 L72.2,381.86 L72.7,384.06 L73.2,383.00 L73.7,381.18 L74.2,382.18 L74.7,382.71 L75.2,382.17 L75.7,382.79 L76.2,382.30 L76.7,382.98 L77.2,383.52 L77.7,381.77 L78.2,382.24 L78.7,381.80 L79.2,382.10 L79.7,381.03 L80.2,381.48 L80.7,382.05 L81.2,383.14 L81.7,383.20 L82.2,381.00 L82.7,381.37 L83.2,382.44 L83.7,380.36 L84.2,381.50 L84.7,382.20 L85.2,383.43 L85.7,382.95 L86.2,381.93 L86.7,381.77 L87.2,382.10 L87.7,383.52 L88.2,381.94 L88.7,381.90 L89.2,382.46 L89.7,382.09 L90.2,381.85 L90.7,381.13 L91.2,381.98 L91.7,381.92 L92.2,383.30 L92.7,382.94 L93.2,382.33 L93.7,382.76 L94.2,382.09 L94.7,383.12 L95.2,382.39 L95.7,382.57 L96.2,381.10 L96.7,382.13 L97.2,380.40 L97.7,380.04 L98.2,381.53 L98.7,381.33 L99.2,382.51 L99.7,384.18 L100.2,381.62 L100.7,381.53 L101.2,382.36 L101.7,382.65 L102.2,382.06 L102.7,382.06 L103.2,382.87 L103.7,382.62 L104.2,381.28 L104.7,381.98 L105.2,382.07 L105.7,381.24 L106.2,382.18 L106.7,381.54 L107.2,383.00 L107.7,382.49 L108.2,382.21 L108.7,381.63 L109.2,381.74 L109.7,380.17 L110.2,380.92 L110.7,382.11 L111.2,380.35 L111.7,382.48 L112.2,380.76 L112.7,382.56 L113.2,381.59 L113.7,382.81 L114.2,382.20 L114.7,380.92 L115.2,383.32 L115.7,383.66 L116.2,382.26 L116.7,381.89 L117.2,381.87 L117.7,381.39 L118.2,383.00 L118.7,381.80 L119.2,381.96 L119.7,381.35 L120.2,381.33 L120.7,381.06 L121.2,383.16 L121.7,382.31 L122.2,383.05 L122.7,382.22 L123.2,381.49 L123.7,381.71 L124.2,381.61 L124.7,382.06 L125.2,381.78 L125.7,381.67 L126.2,380.75 L126.7,381.45 L127.2,383.51 L127.7,381.62 L128.2,381.14 L128.7,382.52 L129.2,383.33 L129.7,380.96 L130.2,381.70 L130.7,381.32 L131.2,380.53 L131.7,382.61 L132.2,382.23 L132.7,382.12 L133.2,381.52 L133.7,382.41 L134.2,381.69 L134.7,381.81 L135.2,380.95 L135.7,381.04 L136.2,383.17 L136.7,381.88 L137.2,382.34 L137.7,382.09 L138.2,381.66 L138.7,381.69 L139.2,382.62 L139.7,381.91 L140.2,381.95 L140.7,382.28 L141.2,383.30 L141.7,382.95 L142.2,382.49 L142.7,381.47 L143.2,380.88 L143.7,382.94 L144.2,383.10 L144.7,382.16 L145.2,382.68 L145.7,382.99 L146.2,383.07 L146.7,382.99 L147.2,381.96 L147.7,383.26 L148.2,381.21 L148.7,382.76 L149.2,382.73 L149.7,383.15 L150.2,384.07 L150.7,383.49 L151.2,380.92 L151.7,380.39 L152.2,382.40 L152.7,381.13 L153.2,381.92 L153.7,382.51 L154.2,380.23 L154.7,379.76 L155.2,381.84 L155.7,381.87 L156.2,381.58 L156.7,381.65 L157.2,380.72 L157.7,380.11 L158.2,381.10 L158.7,380.35 L159.2,379.78 L159.7,381.48 L160.2,381.10 L160.7,381.04 L161.2,379.48 L161.7,378.99 L162.2,377.73 L162.7,376.17 L163.2,374.20 L163.7,369.39 L164.2,365.26 L164.7,361.38 L165.2,362.01 L165.7,362.93 L166.2,369.49 L166.7,373.19 L167.2,375.97 L167.7,376.59 L168.2,378.45 L168.7,380.07 L169.2,379.68 L169.7,379.75 L170.2,379.57 L170.7,380.62 L171.2,379.30 L171.7,377.14 L172.2,377.91 L172.7,376.54 L173.2,375.32 L173.7,377.72 L174.2,379.45 L174.7,378.19 L175.2,376.83 L175.7,377.10 L176.2,378.94 L176.7,378.36 L177.2,378.25 L177.7,378.33 L178.2,378.72 L178.7,379.66 L179.2,379.75 L179.7,379.52 L180.2,378.78 L180.7,380.19 L181.2,379.76 L181.7,381.21 L182.2,379.61 L182.7,380.58 L183.2,380.87 L183.7,380.20 L184.2,382.98 L184.7,383.00 L185.2,381.44 L185.7,382.38 L186.2,381.86 L186.7,379.45 L187.2,381.75 L187.7,381.87 L188.2,381.86 L188.7,380.93 L189.2,381.56 L189.7,381.94 L190.2,383.13 L190.7,382.48 L191.2,382.26 L191.7,383.39 L192.2,381.67 L192.7,381.40 L193.2,380.52 L193.7,383.42 L194.2,383.28 L194.7,383.14 L195.2,382.83 L195.7,382.30 L196.2,382.27 L196.7,381.86 L197.2,381.89 L197.7,382.32 L198.2,383.59 L198.7,382.81 L199.2,382.05 L199.7,381.49 L200.2,381.66 L200.7,383.59 L201.2,382.80 L201.7,382.21 L202.2,381.67 L202.7,381.05 L203.2,382.04 L203.7,382.88 L204.2,381.85 L204.7,381.85 L205.2,381.91 L205.7,382.01 L206.2,380.64 L206.7,381.61 L207.2,381.43 L207.7,382.76 L208.2,381.61 L208.7,382.77 L209.2,383.59 L209.7,381.97 L210.2,381.57 L210.7,382.25 L211.2,382.05 L211.7,381.28 L212.2,382.71 L212.7,384.05 L213.2,382.14 L213.7,381.80 L214.2,381.20 L214.7,382.16 L215.2,380.90 L215.7,381.13 L216.2,383.09 L216.7,381.61 L217.2,383.24 L217.7,383.74 L218.2,382.66 L218.7,382.95 L219.2,384.01 L219.7,382.15 L220.2,381.41 L220.7,380.83 L221.2,382.21 L221.7,383.66 L222.2,383.12 L222.7,381.30 L223.2,381.18 L223.7,381.62 L224.2,382.34 L224.7,382.03 L225.2,382.37 L225.7,382.42 L226.2,381.91 L226.7,382.11 L227.2,382.34 L227.7,382.17 L228.2,382.85 L228.7,384.04 L229.2,382.95 L229.7,382.08 L230.2,380.65 L230.7,382.06 L231.2,380.22 L231.7,380.71 L232.2,382.86 L232.7,382.90 L233.2,381.89 L233.7,380.51 L234.2,381.51 L234.7,381.56 L235.2,382.95 L235.7,384.36 L236.2,382.55 L236.7,381.32 L237.2,380.97 L237.7,381.94 L238.2,381.84 L238.7,381.08 L239.2,381.98 L239.7,381.24 L240.2,383.18 L240.7,383.42 L241.2,383.24 L241.7,381.92 L242.2,382.56 L242.7,382.05 L243.2,381.73 L243.7,381.63 L244.2,380.72 L244.7,380.75 L245.2,382.68 L245.7,382.10 L246.2,382.45 L246.7,382.89 L247.2,380.57 L247.7,381.23 L248.2,382.26 L248.7,382.49 L249.2,381.98 L249.7,383.08 L250.2,382.32 L250.7,380.93 L251.2,381.23 L251.7,382.83 L252.2,382.44 L252.7,380.61 L253.2,383.23 L253.7,383.03 L254.2,383.41 L254.7,381.91 L255.2,381.67 L255.7,381.37 L256.2,384.33 L256.7,382.49 L257.2,383.50 L257.7,381.75 L258.2,381.99 L258.7,380.54 L259.2,381.68 L259.7,382.83 L260.2,381.21 L260.7,383.00 L261.2,382.43 L261.7,381.12 L262.2,381.45 L262.7,381.61 L263.2,381.93 L263.7,381.49 L264.2,381.22 L264.7,381.57 L265.2,380.93 L265.7,380.75 L266.2,381.98 L266.7,382.69 L267.2,380.76 L267.7,381.79 L268.2,381.33 L268.7,381.16 L269.2,382.64 L269.7,381.84 L270.2,383.25 L270.7,381.52 L271.2,382.23 L271.7,381.72 L272.2,381.31 L272.7,382.38 L273.2,381.93 L273.7,382.44 L274.2,381.78 L274.7,380.83 L275.2,381.60 L275.7,381.94 L276.2,382.52 L276.7,380.95 L277.2,381.25 L277.7,380.01 L278.2,381.69 L278.7,380.16 L279.2,379.33 L279.7,380.80 L280.2,381.48 L280.7,378.85 L281.2,378.42 L281.7,377.95 L282.2,376.68 L282.7,376.40 L283.2,374.02 L283.7,373.34 L284.2,374.22 L284.7,372.63 L285.2,371.44 L285.7,367.05 L286.2,363.10 L286.7,361.46 L287.2,366.60 L287.7,369.24 L288.2,373.51 L288.7,376.42 L289.2,378.55 L289.7,379.90 L290.2,381.93 L290.7,379.78 L291.2,379.27 L291.7,379.87 L292.2,380.05 L292.7,382.07 L293.2,382.27 L293.7,380.65 L294.2,380.22 L294.7,381.39 L295.2,382.66 L295.7,379.43 L296.2,381.84 L296.7,381.06 L297.2,382.58 L297.7,381.00 L298.2,381.34 L298.7,380.39 L299.2,381.03 L299.7,383.24 L300.2,382.87 L300.7,381.61 L301.2,380.90 L301.7,380.09 L302.2,381.41 L302.7,381.93 L303.2,381.93 L303.7,381.79 L304.2,380.97 L304.7,381.83 L305.2,382.16 L305.7,383.48 L306.2,383.93 L306.7,382.06 L307.2,381.32 L307.7,381.82 L308.2,381.39 L308.7,381.29 L309.2,381.78 L309.7,381.16 L310.2,382.48 L310.7,382.08 L311.2,382.26 L311.7,381.84 L312.2,381.25 L312.7,381.07 L313.2,381.66 L313.7,381.56 L314.2,382.22 L314.7,381.92 L315.2,380.81 L315.7,381.79 L316.2,380.75 L316.7,381.29 L317.2,381.45 L317.7,380.11 L318.2,381.91 L318.7,382.19 L319.2,381.88 L319.7,381.60 L320.2,381.53 L320.7,381.07 L321.2,381.61 L321.7,381.52 L322.2,381.91 L322.7,380.97 L323.2,382.13 L323.7,382.19 L324.2,381.87 L324.7,381.68 L325.2,382.28 L325.7,380.61 L326.2,382.28 L326.7,382.34 L327.2,382.36 L327.7,382.33 L328.2,381.42 L328.7,381.77 L329.2,382.62 L329.7,382.51 L330.2,382.05 L330.7,380.68 L331.2,382.44 L331.7,383.26 L332.2,383.09 L332.7,382.12 L333.2,380.66 L333.7,382.61 L334.2,381.61 L334.7,379.61 L335.2,381.77 L335.7,380.42 L336.2,380.44 L336.7,381.31 L337.2,382.95 L337.7,381.73 L338.2,382.29 L338.7,383.71 L339.2,383.53 L339.7,381.90 L340.2,381.42 L340.7,380.51 L341.2,381.03 L341.7,382.12 L342.2,382.18 L342.7,382.00 L343.2,382.54 L343.7,381.08 L344.2,381.60 L344.7,382.37 L345.2,382.36 L345.7,382.68 L346.2,381.99 L346.7,381.29 L347.2,381.62 L347.7,380.31 L348.2,379.77 L348.7,381.62 L349.2,381.29 L349.7,381.22 L350.2,379.50 L350.7,380.36 L351.2,380.18 L351.7,379.62 L352.2,378.41 L352.7,380.03 L353.2,381.19 L353.7,380.55 L354.2,379.42 L354.7,379.68 L355.2,379.71 L355.7,376.50 L356.2,378.14 L356.7,378.54 L357.2,378.18 L357.7,378.17 L358.2,376.47 L358.7,373.96 L359.2,371.40 L359.7,367.72 L360.2,360.22 L360.7,350.63 L361.2,337.21 L361.7,319.53 L362.2,299.35 L362.7,290.61 L363.2,298.69 L363.7,317.01 L364.2,333.53 L364.7,347.78 L365.2,354.59 L365.7,360.29 L366.2,363.70 L366.7,366.97 L367.2,369.11 L367.7,368.86 L368.2,371.09 L368.7,373.77 L369.2,374.18 L369.7,374.59 L370.2,377.58 L370.7,378.00 L371.2,378.25 L371.7,377.84 L372.2,379.13 L372.7,378.35 L373.2,379.09 L373.7,377.21 L374.2,376.94 L374.7,377.75 L375.2,377.41 L375.7,378.94 L376.2,379.05 L376.7,378.43 L377.2,379.46 L377.7,379.57 L378.2,380.64 L378.7,379.45 L379.2,379.64 L379.7,381.24 L380.2,382.19 L380.7,381.52 L381.2,379.15 L381.7,378.29 L382.2,377.92 L382.7,374.45 L383.2,371.02 L383.7,369.18 L384.2,367.37 L384.7,365.93 L385.2,366.90 L385.7,370.06 L386.2,374.58 L386.7,375.79 L387.2,377.82 L387.7,379.36 L388.2,380.38 L388.7,380.12 L389.2,380.93 L389.7,380.04 L390.2,380.45 L390.7,380.30 L391.2,382.19 L391.7,381.39 L392.2,380.71 L392.7,381.06 L393.2,381.40 L393.7,382.03 L394.2,380.13 L394.7,380.48 L395.2,381.56 L395.7,384.17 L396.2,382.97 L396.7,381.91 L397.2,382.73 L397.7,383.81 L398.2,381.85 L398.7,381.66 L399.2,383.03 L399.7,382.60 L400.2,382.54 L400.7,381.78 L401.2,383.88 L401.7,383.85 L402.2,382.78 L402.7,382.42 L403.2,380.26 L403.7,382.30 L404.2,381.95 L404.7,382.46 L405.2,382.65 L405.7,381.57 L406.2,380.45 L406.7,382.06 L407.2,381.34 L407.7,381.56 L408.2,381.39 L408.7,381.36 L409.2,380.01 L409.7,382.92 L410.2,382.58 L410.7,383.37 L411.2,384.04 L411.7,382.11 L412.2,380.29 L412.7,380.86 L413.2,380.78 L413.7,381.47 L414.2,381.84 L414.7,380.28 L415.2,381.96 L415.7,380.77 L416.2,382.16 L416.7,381.99 L417.2,381.78 L417.7,381.92 L418.2,381.51 L418.7,381.25 L419.2,380.46 L419.7,382.10 L420.2,384.07 L420.7,384.35 L421.2,383.68 L421.7,382.85 L422.2,381.76 L422.7,383.37 L423.2,382.24 L423.7,382.01 L424.2,381.85 L424.7,382.12 L425.2,381.72 L425.7,381.86 L426.2,381.06 L426.7,381.93 L427.2,384.19 L427.7,382.32 L428.2,381.97 L428.7,382.69 L429.2,382.72 L429.7,381.16 L430.2,381.92 L430.7,383.00 L431.2,382.52 L431.7,382.48 L432.2,383.51 L432.7,381.72 L433.2,382.07 L433.7,381.86 L434.2,383.22 L434.7,380.44 L435.2,381.21 L435.7,381.65 L436.2,382.77 L436.7,382.97 L437.2,383.32 L437.7,380.96 L438.2,382.61 L438.7,381.89 L439.2,381.56 L439.7,382.45 L440.2,381.11 L440.7,380.06 L441.2,381.36 L441.7,380.64 L442.2,381.41 L442.7,382.46 L443.2,382.69 L443.7,383.64 L444.2,381.98 L444.7,380.61 L445.2,381.15 L445.7,381.06 L446.2,380.97 L446.7,382.33 L447.2,381.37 L447.7,380.33 L448.2,382.55 L448.7,382.19 L449.2,382.49 L449.7,382.39 L450.2,382.77 L450.7,382.43 L451.2,383.37 L451.7,382.76 L452.2,382.63 L452.7,382.41 L453.2,380.84 L453.7,381.80 L454.2,381.93 L454.7,382.16 L455.2,381.14 L455.7,383.53 L456.2,382.32 L456.7,380.84 L457.2,380.39 L457.7,381.68 L458.2,381.96 L458.7,381.50 L459.2,382.09 L459.7,381.66 L460.2,382.51 L460.7,381.56 L461.2,382.17 L461.7,383.40 L462.2,384.56 L462.7,381.50 L463.2,381.51 L463.7,381.43 L464.2,382.65 L464.7,381.14 L465.2,381.58 L465.7,381.96 L466.2,381.14 L466.7,381.10 L467.2,381.35 L467.7,379.98 L468.2,380.52 L468.7,381.63 L469.2,382.24 L469.7,381.80 L470.2,380.45 L470.7,381.62 L471.2,382.96" fill="none" stroke="#f00000" stroke-width="2.5" stroke-linejoin="round"/>
<text x="69.6" y="370.3" font-size="14.5" text-anchor="start" font-weight="normal" fill="#000" >WSe<tspan dy="6.7" font-size="12">2</tspan><tspan dy="-6.7"> ML</tspan></text>
<text x="70" y="398" font-size="14.5" text-anchor="start" font-weight="normal" fill="#000" >HS 57<tspan dx="0.2" dy="-6.4" font-size="11.5">o</tspan></text>
<text x="70" y="432.2" font-size="14.5" text-anchor="start" font-weight="normal" fill="#000" >HS 20<tspan dx="0.2" dy="-6.4" font-size="11.5">o</tspan></text>
<text x="71" y="490.2" font-size="14.5" text-anchor="start" font-weight="normal" fill="#000" >MoSe<tspan dy="6.7" font-size="12">2</tspan><tspan dy="-6.7"> ML</tspan></text>
<text x="70.8" y="514.3" font-size="14.5" text-anchor="start" font-weight="normal" fill="#000" >(<tspan font-size="15.5">÷</tspan></text>
<text x="90.2" y="514.3" font-size="14.5" text-anchor="start" font-weight="normal" fill="#000" >3)</text>
<text x="363.9" y="478.7" font-size="14.5" text-anchor="middle" font-weight="normal" fill="#000" >495</text>
<line x1="362.4" y1="452" x2="362.4" y2="464.4" stroke="#000" stroke-width="1.5"/>
<path d="M362.4,448 L367.7,458.2 L362.4,455.5 L357.2,458.2 Z" fill="#000"/>
</svg></body></html>
